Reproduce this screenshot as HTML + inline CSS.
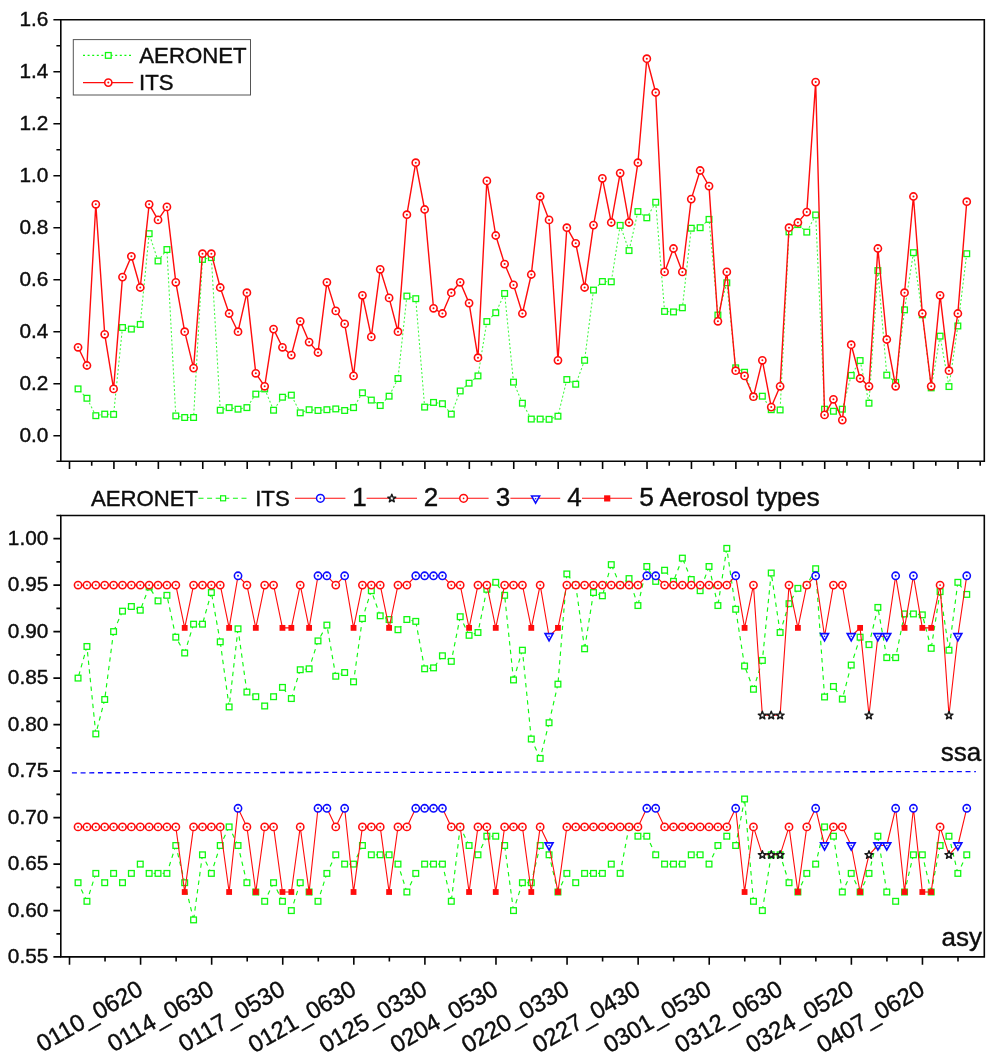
<!DOCTYPE html>
<html lang="en"><head><meta charset="utf-8"><title>AERONET vs ITS aerosol retrievals</title>
<style>html,body{margin:0;padding:0;background:#fff}body{width:992px;height:1058px;overflow:hidden}svg{display:block}text{font-family:"Liberation Sans",Arial,Helvetica,sans-serif;fill:#0d0d0d;stroke:#0d0d0d;stroke-width:0.4px}</style></head><body>
<svg width="992" height="1058" viewBox="0 0 992 1058">
<rect width="992" height="1058" fill="#fff"/>
<g id="top-chart">
<path d="M86.94 398.26L78.05 388.9M95.82 415.68L86.94 398.26M104.71 414.12L95.82 415.68M113.6 414.38L104.71 414.12M122.48 327.54L113.6 414.38M131.37 329.1L122.48 327.54M140.26 324.42L131.37 329.1M149.15 233.68L140.26 324.42M158.03 260.98L149.15 233.68M166.92 249.54L158.03 260.98M175.81 415.94L166.92 249.54M184.69 417.5L175.81 415.94M193.58 417.5L184.69 417.5M202.47 259.42L193.58 417.5M211.36 257.6L202.47 259.42M220.24 410.22L211.36 257.6M229.13 407.62L220.24 410.22M238.02 409.18L229.13 407.62M246.9 407.62L238.02 409.18M255.79 394.1L246.9 407.62M264.68 388.9L255.79 394.1M273.56 410.22L264.68 388.9M282.45 397.22L273.56 410.22M291.34 395.14L282.45 397.22M300.23 412.82L291.34 395.14M309.11 409.7L300.23 412.82M318 410.48L309.11 409.7M326.89 409.7L318 410.48M335.77 408.92L326.89 409.7M344.66 410.48L335.77 408.92M353.55 407.62L344.66 410.48M362.43 392.8L353.55 407.62M371.32 400.08L362.43 392.8M380.21 405.54L371.32 400.08M389.1 396.18L380.21 405.54M397.98 378.5L389.1 396.18M406.87 296.08L397.98 378.5M415.76 298.68L406.87 296.08M424.64 407.1L415.76 298.68M433.53 402.42L424.64 407.1M442.42 403.72L433.53 402.42M451.3 414.12L442.42 403.72M460.19 390.98L451.3 414.12M469.08 383.18L460.19 390.98M477.97 375.9L469.08 383.18M486.85 321.56L477.97 375.9M495.74 312.72L486.85 321.56M504.63 293.48L495.74 312.72M513.51 382.14L504.63 293.48M522.4 403.2L513.51 382.14M531.29 419.06L522.4 403.2M540.17 419.06L531.29 419.06M549.06 419.32L540.17 419.06M557.95 416.2L549.06 419.32M566.84 379.54L557.95 416.2M575.72 384.22L566.84 379.54M584.61 360.3L575.72 384.22M593.5 290.1L584.61 360.3M602.38 281.52L593.5 290.1M611.27 281.78L602.38 281.52M620.16 225.36L611.27 281.78M629.04 250.58L620.16 225.36M637.93 211.58L629.04 250.58M646.82 217.82L637.93 211.58M655.7 202.22L646.82 217.82M664.59 311.42L655.7 202.22M673.48 311.94L664.59 311.42M682.37 307.78L673.48 311.94M691.25 228.22L682.37 307.78M700.14 227.7L691.25 228.22M709.03 219.38L700.14 227.7M717.91 315.06L709.03 219.38M726.8 282.82L717.91 315.06M735.69 367.84L726.8 282.82M744.58 372.26L735.69 367.84M753.46 396.7L744.58 372.26M762.35 396.18L753.46 396.7M771.24 409.7L762.35 396.18M780.12 409.96L771.24 409.7M789.01 231.86L780.12 409.96M797.9 224.58L789.01 231.86M806.78 232.12L797.9 224.58M815.67 214.96L806.78 232.12M824.56 409.18L815.67 214.96M833.44 411.26L824.56 409.18M842.33 409.18L833.44 411.26M851.22 375.38L842.33 409.18M860.11 360.56L851.22 375.38M868.99 403.2L860.11 360.56M877.88 270.6L868.99 403.2M886.77 375.12L877.88 270.6M895.65 382.4L886.77 375.12M904.54 309.86L895.65 382.4M913.43 252.66L904.54 309.86M922.32 314.8L913.43 252.66M931.2 387.86L922.32 314.8M940.09 336.12L931.2 387.86M948.98 386.56L940.09 336.12M957.86 325.98L948.98 386.56M966.75 253.7L957.86 325.98" fill="none" stroke="#10f810" stroke-opacity="0.8" stroke-width="1.05" stroke-dasharray="2 2.15"/>
<rect x="75.2" y="386.05" width="5.7" height="5.7" fill="#fff" stroke="#10f810" stroke-width="1.3"/>
<rect x="84.09" y="395.41" width="5.7" height="5.7" fill="#fff" stroke="#10f810" stroke-width="1.3"/>
<rect x="92.97" y="412.83" width="5.7" height="5.7" fill="#fff" stroke="#10f810" stroke-width="1.3"/>
<rect x="101.86" y="411.27" width="5.7" height="5.7" fill="#fff" stroke="#10f810" stroke-width="1.3"/>
<rect x="110.75" y="411.53" width="5.7" height="5.7" fill="#fff" stroke="#10f810" stroke-width="1.3"/>
<rect x="119.64" y="324.69" width="5.7" height="5.7" fill="#fff" stroke="#10f810" stroke-width="1.3"/>
<rect x="128.52" y="326.25" width="5.7" height="5.7" fill="#fff" stroke="#10f810" stroke-width="1.3"/>
<rect x="137.41" y="321.57" width="5.7" height="5.7" fill="#fff" stroke="#10f810" stroke-width="1.3"/>
<rect x="146.3" y="230.83" width="5.7" height="5.7" fill="#fff" stroke="#10f810" stroke-width="1.3"/>
<rect x="155.18" y="258.13" width="5.7" height="5.7" fill="#fff" stroke="#10f810" stroke-width="1.3"/>
<rect x="164.07" y="246.69" width="5.7" height="5.7" fill="#fff" stroke="#10f810" stroke-width="1.3"/>
<rect x="172.96" y="413.09" width="5.7" height="5.7" fill="#fff" stroke="#10f810" stroke-width="1.3"/>
<rect x="181.84" y="414.65" width="5.7" height="5.7" fill="#fff" stroke="#10f810" stroke-width="1.3"/>
<rect x="190.73" y="414.65" width="5.7" height="5.7" fill="#fff" stroke="#10f810" stroke-width="1.3"/>
<rect x="199.62" y="256.57" width="5.7" height="5.7" fill="#fff" stroke="#10f810" stroke-width="1.3"/>
<rect x="208.51" y="254.75" width="5.7" height="5.7" fill="#fff" stroke="#10f810" stroke-width="1.3"/>
<rect x="217.39" y="407.37" width="5.7" height="5.7" fill="#fff" stroke="#10f810" stroke-width="1.3"/>
<rect x="226.28" y="404.77" width="5.7" height="5.7" fill="#fff" stroke="#10f810" stroke-width="1.3"/>
<rect x="235.17" y="406.33" width="5.7" height="5.7" fill="#fff" stroke="#10f810" stroke-width="1.3"/>
<rect x="244.05" y="404.77" width="5.7" height="5.7" fill="#fff" stroke="#10f810" stroke-width="1.3"/>
<rect x="252.94" y="391.25" width="5.7" height="5.7" fill="#fff" stroke="#10f810" stroke-width="1.3"/>
<rect x="261.83" y="386.05" width="5.7" height="5.7" fill="#fff" stroke="#10f810" stroke-width="1.3"/>
<rect x="270.71" y="407.37" width="5.7" height="5.7" fill="#fff" stroke="#10f810" stroke-width="1.3"/>
<rect x="279.6" y="394.37" width="5.7" height="5.7" fill="#fff" stroke="#10f810" stroke-width="1.3"/>
<rect x="288.49" y="392.29" width="5.7" height="5.7" fill="#fff" stroke="#10f810" stroke-width="1.3"/>
<rect x="297.38" y="409.97" width="5.7" height="5.7" fill="#fff" stroke="#10f810" stroke-width="1.3"/>
<rect x="306.26" y="406.85" width="5.7" height="5.7" fill="#fff" stroke="#10f810" stroke-width="1.3"/>
<rect x="315.15" y="407.63" width="5.7" height="5.7" fill="#fff" stroke="#10f810" stroke-width="1.3"/>
<rect x="324.04" y="406.85" width="5.7" height="5.7" fill="#fff" stroke="#10f810" stroke-width="1.3"/>
<rect x="332.92" y="406.07" width="5.7" height="5.7" fill="#fff" stroke="#10f810" stroke-width="1.3"/>
<rect x="341.81" y="407.63" width="5.7" height="5.7" fill="#fff" stroke="#10f810" stroke-width="1.3"/>
<rect x="350.7" y="404.77" width="5.7" height="5.7" fill="#fff" stroke="#10f810" stroke-width="1.3"/>
<rect x="359.58" y="389.95" width="5.7" height="5.7" fill="#fff" stroke="#10f810" stroke-width="1.3"/>
<rect x="368.47" y="397.23" width="5.7" height="5.7" fill="#fff" stroke="#10f810" stroke-width="1.3"/>
<rect x="377.36" y="402.69" width="5.7" height="5.7" fill="#fff" stroke="#10f810" stroke-width="1.3"/>
<rect x="386.25" y="393.33" width="5.7" height="5.7" fill="#fff" stroke="#10f810" stroke-width="1.3"/>
<rect x="395.13" y="375.65" width="5.7" height="5.7" fill="#fff" stroke="#10f810" stroke-width="1.3"/>
<rect x="404.02" y="293.23" width="5.7" height="5.7" fill="#fff" stroke="#10f810" stroke-width="1.3"/>
<rect x="412.91" y="295.83" width="5.7" height="5.7" fill="#fff" stroke="#10f810" stroke-width="1.3"/>
<rect x="421.79" y="404.25" width="5.7" height="5.7" fill="#fff" stroke="#10f810" stroke-width="1.3"/>
<rect x="430.68" y="399.57" width="5.7" height="5.7" fill="#fff" stroke="#10f810" stroke-width="1.3"/>
<rect x="439.57" y="400.87" width="5.7" height="5.7" fill="#fff" stroke="#10f810" stroke-width="1.3"/>
<rect x="448.45" y="411.27" width="5.7" height="5.7" fill="#fff" stroke="#10f810" stroke-width="1.3"/>
<rect x="457.34" y="388.13" width="5.7" height="5.7" fill="#fff" stroke="#10f810" stroke-width="1.3"/>
<rect x="466.23" y="380.33" width="5.7" height="5.7" fill="#fff" stroke="#10f810" stroke-width="1.3"/>
<rect x="475.12" y="373.05" width="5.7" height="5.7" fill="#fff" stroke="#10f810" stroke-width="1.3"/>
<rect x="484" y="318.71" width="5.7" height="5.7" fill="#fff" stroke="#10f810" stroke-width="1.3"/>
<rect x="492.89" y="309.87" width="5.7" height="5.7" fill="#fff" stroke="#10f810" stroke-width="1.3"/>
<rect x="501.78" y="290.63" width="5.7" height="5.7" fill="#fff" stroke="#10f810" stroke-width="1.3"/>
<rect x="510.66" y="379.29" width="5.7" height="5.7" fill="#fff" stroke="#10f810" stroke-width="1.3"/>
<rect x="519.55" y="400.35" width="5.7" height="5.7" fill="#fff" stroke="#10f810" stroke-width="1.3"/>
<rect x="528.44" y="416.21" width="5.7" height="5.7" fill="#fff" stroke="#10f810" stroke-width="1.3"/>
<rect x="537.32" y="416.21" width="5.7" height="5.7" fill="#fff" stroke="#10f810" stroke-width="1.3"/>
<rect x="546.21" y="416.47" width="5.7" height="5.7" fill="#fff" stroke="#10f810" stroke-width="1.3"/>
<rect x="555.1" y="413.35" width="5.7" height="5.7" fill="#fff" stroke="#10f810" stroke-width="1.3"/>
<rect x="563.99" y="376.69" width="5.7" height="5.7" fill="#fff" stroke="#10f810" stroke-width="1.3"/>
<rect x="572.87" y="381.37" width="5.7" height="5.7" fill="#fff" stroke="#10f810" stroke-width="1.3"/>
<rect x="581.76" y="357.45" width="5.7" height="5.7" fill="#fff" stroke="#10f810" stroke-width="1.3"/>
<rect x="590.65" y="287.25" width="5.7" height="5.7" fill="#fff" stroke="#10f810" stroke-width="1.3"/>
<rect x="599.53" y="278.67" width="5.7" height="5.7" fill="#fff" stroke="#10f810" stroke-width="1.3"/>
<rect x="608.42" y="278.93" width="5.7" height="5.7" fill="#fff" stroke="#10f810" stroke-width="1.3"/>
<rect x="617.31" y="222.51" width="5.7" height="5.7" fill="#fff" stroke="#10f810" stroke-width="1.3"/>
<rect x="626.19" y="247.73" width="5.7" height="5.7" fill="#fff" stroke="#10f810" stroke-width="1.3"/>
<rect x="635.08" y="208.73" width="5.7" height="5.7" fill="#fff" stroke="#10f810" stroke-width="1.3"/>
<rect x="643.97" y="214.97" width="5.7" height="5.7" fill="#fff" stroke="#10f810" stroke-width="1.3"/>
<rect x="652.85" y="199.37" width="5.7" height="5.7" fill="#fff" stroke="#10f810" stroke-width="1.3"/>
<rect x="661.74" y="308.57" width="5.7" height="5.7" fill="#fff" stroke="#10f810" stroke-width="1.3"/>
<rect x="670.63" y="309.09" width="5.7" height="5.7" fill="#fff" stroke="#10f810" stroke-width="1.3"/>
<rect x="679.52" y="304.93" width="5.7" height="5.7" fill="#fff" stroke="#10f810" stroke-width="1.3"/>
<rect x="688.4" y="225.37" width="5.7" height="5.7" fill="#fff" stroke="#10f810" stroke-width="1.3"/>
<rect x="697.29" y="224.85" width="5.7" height="5.7" fill="#fff" stroke="#10f810" stroke-width="1.3"/>
<rect x="706.18" y="216.53" width="5.7" height="5.7" fill="#fff" stroke="#10f810" stroke-width="1.3"/>
<rect x="715.06" y="312.21" width="5.7" height="5.7" fill="#fff" stroke="#10f810" stroke-width="1.3"/>
<rect x="723.95" y="279.97" width="5.7" height="5.7" fill="#fff" stroke="#10f810" stroke-width="1.3"/>
<rect x="732.84" y="364.99" width="5.7" height="5.7" fill="#fff" stroke="#10f810" stroke-width="1.3"/>
<rect x="741.73" y="369.41" width="5.7" height="5.7" fill="#fff" stroke="#10f810" stroke-width="1.3"/>
<rect x="750.61" y="393.85" width="5.7" height="5.7" fill="#fff" stroke="#10f810" stroke-width="1.3"/>
<rect x="759.5" y="393.33" width="5.7" height="5.7" fill="#fff" stroke="#10f810" stroke-width="1.3"/>
<rect x="768.39" y="406.85" width="5.7" height="5.7" fill="#fff" stroke="#10f810" stroke-width="1.3"/>
<rect x="777.27" y="407.11" width="5.7" height="5.7" fill="#fff" stroke="#10f810" stroke-width="1.3"/>
<rect x="786.16" y="229.01" width="5.7" height="5.7" fill="#fff" stroke="#10f810" stroke-width="1.3"/>
<rect x="795.05" y="221.73" width="5.7" height="5.7" fill="#fff" stroke="#10f810" stroke-width="1.3"/>
<rect x="803.93" y="229.27" width="5.7" height="5.7" fill="#fff" stroke="#10f810" stroke-width="1.3"/>
<rect x="812.82" y="212.11" width="5.7" height="5.7" fill="#fff" stroke="#10f810" stroke-width="1.3"/>
<rect x="821.71" y="406.33" width="5.7" height="5.7" fill="#fff" stroke="#10f810" stroke-width="1.3"/>
<rect x="830.59" y="408.41" width="5.7" height="5.7" fill="#fff" stroke="#10f810" stroke-width="1.3"/>
<rect x="839.48" y="406.33" width="5.7" height="5.7" fill="#fff" stroke="#10f810" stroke-width="1.3"/>
<rect x="848.37" y="372.53" width="5.7" height="5.7" fill="#fff" stroke="#10f810" stroke-width="1.3"/>
<rect x="857.26" y="357.71" width="5.7" height="5.7" fill="#fff" stroke="#10f810" stroke-width="1.3"/>
<rect x="866.14" y="400.35" width="5.7" height="5.7" fill="#fff" stroke="#10f810" stroke-width="1.3"/>
<rect x="875.03" y="267.75" width="5.7" height="5.7" fill="#fff" stroke="#10f810" stroke-width="1.3"/>
<rect x="883.92" y="372.27" width="5.7" height="5.7" fill="#fff" stroke="#10f810" stroke-width="1.3"/>
<rect x="892.8" y="379.55" width="5.7" height="5.7" fill="#fff" stroke="#10f810" stroke-width="1.3"/>
<rect x="901.69" y="307.01" width="5.7" height="5.7" fill="#fff" stroke="#10f810" stroke-width="1.3"/>
<rect x="910.58" y="249.81" width="5.7" height="5.7" fill="#fff" stroke="#10f810" stroke-width="1.3"/>
<rect x="919.47" y="311.95" width="5.7" height="5.7" fill="#fff" stroke="#10f810" stroke-width="1.3"/>
<rect x="928.35" y="385.01" width="5.7" height="5.7" fill="#fff" stroke="#10f810" stroke-width="1.3"/>
<rect x="937.24" y="333.27" width="5.7" height="5.7" fill="#fff" stroke="#10f810" stroke-width="1.3"/>
<rect x="946.13" y="383.71" width="5.7" height="5.7" fill="#fff" stroke="#10f810" stroke-width="1.3"/>
<rect x="955.01" y="323.13" width="5.7" height="5.7" fill="#fff" stroke="#10f810" stroke-width="1.3"/>
<rect x="963.9" y="250.85" width="5.7" height="5.7" fill="#fff" stroke="#10f810" stroke-width="1.3"/>
<polyline points="78.05,347.3 86.94,365.5 95.82,204.3 104.71,334.3 113.6,388.9 122.48,277.1 131.37,256.3 140.26,287.5 149.15,204.3 158.03,219.9 166.92,206.9 175.81,282.3 184.69,331.7 193.58,368.1 202.47,253.7 211.36,253.7 220.24,287.5 229.13,313.5 238.02,331.7 246.9,292.7 255.79,373.3 264.68,386.3 273.56,329.1 282.45,347.3 291.34,355.1 300.23,321.3 309.11,342.1 318,352.5 326.89,282.3 335.77,310.9 344.66,323.9 353.55,375.9 362.43,295.3 371.32,336.9 380.21,269.3 389.1,297.9 397.98,331.7 406.87,214.7 415.76,162.7 424.64,209.5 433.53,308.3 442.42,313.5 451.3,292.7 460.19,282.3 469.08,303.1 477.97,357.7 486.85,180.9 495.74,235.5 504.63,264.1 513.51,284.9 522.4,313.5 531.29,274.5 540.17,196.5 549.06,219.9 557.95,360.3 566.84,227.7 575.72,243.3 584.61,287.5 593.5,225.1 602.38,178.3 611.27,222.5 620.16,173.1 629.04,222.5 637.93,162.7 646.82,58.7 655.7,92.5 664.59,271.9 673.48,248.5 682.37,271.9 691.25,199.1 700.14,170.5 709.03,186.1 717.91,321.3 726.8,271.9 735.69,370.7 744.58,375.9 753.46,396.7 762.35,360.3 771.24,407.1 780.12,386.3 789.01,227.7 797.9,222.5 806.78,212.1 815.67,82.1 824.56,414.9 833.44,399.3 842.33,420.1 851.22,344.7 860.11,378.5 868.99,386.3 877.88,248.5 886.77,339.5 895.65,386.3 904.54,292.7 913.43,196.5 922.32,313.5 931.2,386.3 940.09,295.3 948.98,370.7 957.86,313.5 966.75,201.7" fill="none" stroke="#ff0c0c" stroke-width="1.4" stroke-linejoin="round"/>
<circle cx="78.05" cy="347.3" r="3.6" fill="#fff" stroke="#ff0c0c" stroke-width="1.6"/><circle cx="78.05" cy="347.3" r="1.0" fill="#ff0c0c"/>
<circle cx="86.94" cy="365.5" r="3.6" fill="#fff" stroke="#ff0c0c" stroke-width="1.6"/><circle cx="86.94" cy="365.5" r="1.0" fill="#ff0c0c"/>
<circle cx="95.82" cy="204.3" r="3.6" fill="#fff" stroke="#ff0c0c" stroke-width="1.6"/><circle cx="95.82" cy="204.3" r="1.0" fill="#ff0c0c"/>
<circle cx="104.71" cy="334.3" r="3.6" fill="#fff" stroke="#ff0c0c" stroke-width="1.6"/><circle cx="104.71" cy="334.3" r="1.0" fill="#ff0c0c"/>
<circle cx="113.6" cy="388.9" r="3.6" fill="#fff" stroke="#ff0c0c" stroke-width="1.6"/><circle cx="113.6" cy="388.9" r="1.0" fill="#ff0c0c"/>
<circle cx="122.48" cy="277.1" r="3.6" fill="#fff" stroke="#ff0c0c" stroke-width="1.6"/><circle cx="122.48" cy="277.1" r="1.0" fill="#ff0c0c"/>
<circle cx="131.37" cy="256.3" r="3.6" fill="#fff" stroke="#ff0c0c" stroke-width="1.6"/><circle cx="131.37" cy="256.3" r="1.0" fill="#ff0c0c"/>
<circle cx="140.26" cy="287.5" r="3.6" fill="#fff" stroke="#ff0c0c" stroke-width="1.6"/><circle cx="140.26" cy="287.5" r="1.0" fill="#ff0c0c"/>
<circle cx="149.15" cy="204.3" r="3.6" fill="#fff" stroke="#ff0c0c" stroke-width="1.6"/><circle cx="149.15" cy="204.3" r="1.0" fill="#ff0c0c"/>
<circle cx="158.03" cy="219.9" r="3.6" fill="#fff" stroke="#ff0c0c" stroke-width="1.6"/><circle cx="158.03" cy="219.9" r="1.0" fill="#ff0c0c"/>
<circle cx="166.92" cy="206.9" r="3.6" fill="#fff" stroke="#ff0c0c" stroke-width="1.6"/><circle cx="166.92" cy="206.9" r="1.0" fill="#ff0c0c"/>
<circle cx="175.81" cy="282.3" r="3.6" fill="#fff" stroke="#ff0c0c" stroke-width="1.6"/><circle cx="175.81" cy="282.3" r="1.0" fill="#ff0c0c"/>
<circle cx="184.69" cy="331.7" r="3.6" fill="#fff" stroke="#ff0c0c" stroke-width="1.6"/><circle cx="184.69" cy="331.7" r="1.0" fill="#ff0c0c"/>
<circle cx="193.58" cy="368.1" r="3.6" fill="#fff" stroke="#ff0c0c" stroke-width="1.6"/><circle cx="193.58" cy="368.1" r="1.0" fill="#ff0c0c"/>
<circle cx="202.47" cy="253.7" r="3.6" fill="#fff" stroke="#ff0c0c" stroke-width="1.6"/><circle cx="202.47" cy="253.7" r="1.0" fill="#ff0c0c"/>
<circle cx="211.36" cy="253.7" r="3.6" fill="#fff" stroke="#ff0c0c" stroke-width="1.6"/><circle cx="211.36" cy="253.7" r="1.0" fill="#ff0c0c"/>
<circle cx="220.24" cy="287.5" r="3.6" fill="#fff" stroke="#ff0c0c" stroke-width="1.6"/><circle cx="220.24" cy="287.5" r="1.0" fill="#ff0c0c"/>
<circle cx="229.13" cy="313.5" r="3.6" fill="#fff" stroke="#ff0c0c" stroke-width="1.6"/><circle cx="229.13" cy="313.5" r="1.0" fill="#ff0c0c"/>
<circle cx="238.02" cy="331.7" r="3.6" fill="#fff" stroke="#ff0c0c" stroke-width="1.6"/><circle cx="238.02" cy="331.7" r="1.0" fill="#ff0c0c"/>
<circle cx="246.9" cy="292.7" r="3.6" fill="#fff" stroke="#ff0c0c" stroke-width="1.6"/><circle cx="246.9" cy="292.7" r="1.0" fill="#ff0c0c"/>
<circle cx="255.79" cy="373.3" r="3.6" fill="#fff" stroke="#ff0c0c" stroke-width="1.6"/><circle cx="255.79" cy="373.3" r="1.0" fill="#ff0c0c"/>
<circle cx="264.68" cy="386.3" r="3.6" fill="#fff" stroke="#ff0c0c" stroke-width="1.6"/><circle cx="264.68" cy="386.3" r="1.0" fill="#ff0c0c"/>
<circle cx="273.56" cy="329.1" r="3.6" fill="#fff" stroke="#ff0c0c" stroke-width="1.6"/><circle cx="273.56" cy="329.1" r="1.0" fill="#ff0c0c"/>
<circle cx="282.45" cy="347.3" r="3.6" fill="#fff" stroke="#ff0c0c" stroke-width="1.6"/><circle cx="282.45" cy="347.3" r="1.0" fill="#ff0c0c"/>
<circle cx="291.34" cy="355.1" r="3.6" fill="#fff" stroke="#ff0c0c" stroke-width="1.6"/><circle cx="291.34" cy="355.1" r="1.0" fill="#ff0c0c"/>
<circle cx="300.23" cy="321.3" r="3.6" fill="#fff" stroke="#ff0c0c" stroke-width="1.6"/><circle cx="300.23" cy="321.3" r="1.0" fill="#ff0c0c"/>
<circle cx="309.11" cy="342.1" r="3.6" fill="#fff" stroke="#ff0c0c" stroke-width="1.6"/><circle cx="309.11" cy="342.1" r="1.0" fill="#ff0c0c"/>
<circle cx="318" cy="352.5" r="3.6" fill="#fff" stroke="#ff0c0c" stroke-width="1.6"/><circle cx="318" cy="352.5" r="1.0" fill="#ff0c0c"/>
<circle cx="326.89" cy="282.3" r="3.6" fill="#fff" stroke="#ff0c0c" stroke-width="1.6"/><circle cx="326.89" cy="282.3" r="1.0" fill="#ff0c0c"/>
<circle cx="335.77" cy="310.9" r="3.6" fill="#fff" stroke="#ff0c0c" stroke-width="1.6"/><circle cx="335.77" cy="310.9" r="1.0" fill="#ff0c0c"/>
<circle cx="344.66" cy="323.9" r="3.6" fill="#fff" stroke="#ff0c0c" stroke-width="1.6"/><circle cx="344.66" cy="323.9" r="1.0" fill="#ff0c0c"/>
<circle cx="353.55" cy="375.9" r="3.6" fill="#fff" stroke="#ff0c0c" stroke-width="1.6"/><circle cx="353.55" cy="375.9" r="1.0" fill="#ff0c0c"/>
<circle cx="362.43" cy="295.3" r="3.6" fill="#fff" stroke="#ff0c0c" stroke-width="1.6"/><circle cx="362.43" cy="295.3" r="1.0" fill="#ff0c0c"/>
<circle cx="371.32" cy="336.9" r="3.6" fill="#fff" stroke="#ff0c0c" stroke-width="1.6"/><circle cx="371.32" cy="336.9" r="1.0" fill="#ff0c0c"/>
<circle cx="380.21" cy="269.3" r="3.6" fill="#fff" stroke="#ff0c0c" stroke-width="1.6"/><circle cx="380.21" cy="269.3" r="1.0" fill="#ff0c0c"/>
<circle cx="389.1" cy="297.9" r="3.6" fill="#fff" stroke="#ff0c0c" stroke-width="1.6"/><circle cx="389.1" cy="297.9" r="1.0" fill="#ff0c0c"/>
<circle cx="397.98" cy="331.7" r="3.6" fill="#fff" stroke="#ff0c0c" stroke-width="1.6"/><circle cx="397.98" cy="331.7" r="1.0" fill="#ff0c0c"/>
<circle cx="406.87" cy="214.7" r="3.6" fill="#fff" stroke="#ff0c0c" stroke-width="1.6"/><circle cx="406.87" cy="214.7" r="1.0" fill="#ff0c0c"/>
<circle cx="415.76" cy="162.7" r="3.6" fill="#fff" stroke="#ff0c0c" stroke-width="1.6"/><circle cx="415.76" cy="162.7" r="1.0" fill="#ff0c0c"/>
<circle cx="424.64" cy="209.5" r="3.6" fill="#fff" stroke="#ff0c0c" stroke-width="1.6"/><circle cx="424.64" cy="209.5" r="1.0" fill="#ff0c0c"/>
<circle cx="433.53" cy="308.3" r="3.6" fill="#fff" stroke="#ff0c0c" stroke-width="1.6"/><circle cx="433.53" cy="308.3" r="1.0" fill="#ff0c0c"/>
<circle cx="442.42" cy="313.5" r="3.6" fill="#fff" stroke="#ff0c0c" stroke-width="1.6"/><circle cx="442.42" cy="313.5" r="1.0" fill="#ff0c0c"/>
<circle cx="451.3" cy="292.7" r="3.6" fill="#fff" stroke="#ff0c0c" stroke-width="1.6"/><circle cx="451.3" cy="292.7" r="1.0" fill="#ff0c0c"/>
<circle cx="460.19" cy="282.3" r="3.6" fill="#fff" stroke="#ff0c0c" stroke-width="1.6"/><circle cx="460.19" cy="282.3" r="1.0" fill="#ff0c0c"/>
<circle cx="469.08" cy="303.1" r="3.6" fill="#fff" stroke="#ff0c0c" stroke-width="1.6"/><circle cx="469.08" cy="303.1" r="1.0" fill="#ff0c0c"/>
<circle cx="477.97" cy="357.7" r="3.6" fill="#fff" stroke="#ff0c0c" stroke-width="1.6"/><circle cx="477.97" cy="357.7" r="1.0" fill="#ff0c0c"/>
<circle cx="486.85" cy="180.9" r="3.6" fill="#fff" stroke="#ff0c0c" stroke-width="1.6"/><circle cx="486.85" cy="180.9" r="1.0" fill="#ff0c0c"/>
<circle cx="495.74" cy="235.5" r="3.6" fill="#fff" stroke="#ff0c0c" stroke-width="1.6"/><circle cx="495.74" cy="235.5" r="1.0" fill="#ff0c0c"/>
<circle cx="504.63" cy="264.1" r="3.6" fill="#fff" stroke="#ff0c0c" stroke-width="1.6"/><circle cx="504.63" cy="264.1" r="1.0" fill="#ff0c0c"/>
<circle cx="513.51" cy="284.9" r="3.6" fill="#fff" stroke="#ff0c0c" stroke-width="1.6"/><circle cx="513.51" cy="284.9" r="1.0" fill="#ff0c0c"/>
<circle cx="522.4" cy="313.5" r="3.6" fill="#fff" stroke="#ff0c0c" stroke-width="1.6"/><circle cx="522.4" cy="313.5" r="1.0" fill="#ff0c0c"/>
<circle cx="531.29" cy="274.5" r="3.6" fill="#fff" stroke="#ff0c0c" stroke-width="1.6"/><circle cx="531.29" cy="274.5" r="1.0" fill="#ff0c0c"/>
<circle cx="540.17" cy="196.5" r="3.6" fill="#fff" stroke="#ff0c0c" stroke-width="1.6"/><circle cx="540.17" cy="196.5" r="1.0" fill="#ff0c0c"/>
<circle cx="549.06" cy="219.9" r="3.6" fill="#fff" stroke="#ff0c0c" stroke-width="1.6"/><circle cx="549.06" cy="219.9" r="1.0" fill="#ff0c0c"/>
<circle cx="557.95" cy="360.3" r="3.6" fill="#fff" stroke="#ff0c0c" stroke-width="1.6"/><circle cx="557.95" cy="360.3" r="1.0" fill="#ff0c0c"/>
<circle cx="566.84" cy="227.7" r="3.6" fill="#fff" stroke="#ff0c0c" stroke-width="1.6"/><circle cx="566.84" cy="227.7" r="1.0" fill="#ff0c0c"/>
<circle cx="575.72" cy="243.3" r="3.6" fill="#fff" stroke="#ff0c0c" stroke-width="1.6"/><circle cx="575.72" cy="243.3" r="1.0" fill="#ff0c0c"/>
<circle cx="584.61" cy="287.5" r="3.6" fill="#fff" stroke="#ff0c0c" stroke-width="1.6"/><circle cx="584.61" cy="287.5" r="1.0" fill="#ff0c0c"/>
<circle cx="593.5" cy="225.1" r="3.6" fill="#fff" stroke="#ff0c0c" stroke-width="1.6"/><circle cx="593.5" cy="225.1" r="1.0" fill="#ff0c0c"/>
<circle cx="602.38" cy="178.3" r="3.6" fill="#fff" stroke="#ff0c0c" stroke-width="1.6"/><circle cx="602.38" cy="178.3" r="1.0" fill="#ff0c0c"/>
<circle cx="611.27" cy="222.5" r="3.6" fill="#fff" stroke="#ff0c0c" stroke-width="1.6"/><circle cx="611.27" cy="222.5" r="1.0" fill="#ff0c0c"/>
<circle cx="620.16" cy="173.1" r="3.6" fill="#fff" stroke="#ff0c0c" stroke-width="1.6"/><circle cx="620.16" cy="173.1" r="1.0" fill="#ff0c0c"/>
<circle cx="629.04" cy="222.5" r="3.6" fill="#fff" stroke="#ff0c0c" stroke-width="1.6"/><circle cx="629.04" cy="222.5" r="1.0" fill="#ff0c0c"/>
<circle cx="637.93" cy="162.7" r="3.6" fill="#fff" stroke="#ff0c0c" stroke-width="1.6"/><circle cx="637.93" cy="162.7" r="1.0" fill="#ff0c0c"/>
<circle cx="646.82" cy="58.7" r="3.6" fill="#fff" stroke="#ff0c0c" stroke-width="1.6"/><circle cx="646.82" cy="58.7" r="1.0" fill="#ff0c0c"/>
<circle cx="655.7" cy="92.5" r="3.6" fill="#fff" stroke="#ff0c0c" stroke-width="1.6"/><circle cx="655.7" cy="92.5" r="1.0" fill="#ff0c0c"/>
<circle cx="664.59" cy="271.9" r="3.6" fill="#fff" stroke="#ff0c0c" stroke-width="1.6"/><circle cx="664.59" cy="271.9" r="1.0" fill="#ff0c0c"/>
<circle cx="673.48" cy="248.5" r="3.6" fill="#fff" stroke="#ff0c0c" stroke-width="1.6"/><circle cx="673.48" cy="248.5" r="1.0" fill="#ff0c0c"/>
<circle cx="682.37" cy="271.9" r="3.6" fill="#fff" stroke="#ff0c0c" stroke-width="1.6"/><circle cx="682.37" cy="271.9" r="1.0" fill="#ff0c0c"/>
<circle cx="691.25" cy="199.1" r="3.6" fill="#fff" stroke="#ff0c0c" stroke-width="1.6"/><circle cx="691.25" cy="199.1" r="1.0" fill="#ff0c0c"/>
<circle cx="700.14" cy="170.5" r="3.6" fill="#fff" stroke="#ff0c0c" stroke-width="1.6"/><circle cx="700.14" cy="170.5" r="1.0" fill="#ff0c0c"/>
<circle cx="709.03" cy="186.1" r="3.6" fill="#fff" stroke="#ff0c0c" stroke-width="1.6"/><circle cx="709.03" cy="186.1" r="1.0" fill="#ff0c0c"/>
<circle cx="717.91" cy="321.3" r="3.6" fill="#fff" stroke="#ff0c0c" stroke-width="1.6"/><circle cx="717.91" cy="321.3" r="1.0" fill="#ff0c0c"/>
<circle cx="726.8" cy="271.9" r="3.6" fill="#fff" stroke="#ff0c0c" stroke-width="1.6"/><circle cx="726.8" cy="271.9" r="1.0" fill="#ff0c0c"/>
<circle cx="735.69" cy="370.7" r="3.6" fill="#fff" stroke="#ff0c0c" stroke-width="1.6"/><circle cx="735.69" cy="370.7" r="1.0" fill="#ff0c0c"/>
<circle cx="744.58" cy="375.9" r="3.6" fill="#fff" stroke="#ff0c0c" stroke-width="1.6"/><circle cx="744.58" cy="375.9" r="1.0" fill="#ff0c0c"/>
<circle cx="753.46" cy="396.7" r="3.6" fill="#fff" stroke="#ff0c0c" stroke-width="1.6"/><circle cx="753.46" cy="396.7" r="1.0" fill="#ff0c0c"/>
<circle cx="762.35" cy="360.3" r="3.6" fill="#fff" stroke="#ff0c0c" stroke-width="1.6"/><circle cx="762.35" cy="360.3" r="1.0" fill="#ff0c0c"/>
<circle cx="771.24" cy="407.1" r="3.6" fill="#fff" stroke="#ff0c0c" stroke-width="1.6"/><circle cx="771.24" cy="407.1" r="1.0" fill="#ff0c0c"/>
<circle cx="780.12" cy="386.3" r="3.6" fill="#fff" stroke="#ff0c0c" stroke-width="1.6"/><circle cx="780.12" cy="386.3" r="1.0" fill="#ff0c0c"/>
<circle cx="789.01" cy="227.7" r="3.6" fill="#fff" stroke="#ff0c0c" stroke-width="1.6"/><circle cx="789.01" cy="227.7" r="1.0" fill="#ff0c0c"/>
<circle cx="797.9" cy="222.5" r="3.6" fill="#fff" stroke="#ff0c0c" stroke-width="1.6"/><circle cx="797.9" cy="222.5" r="1.0" fill="#ff0c0c"/>
<circle cx="806.78" cy="212.1" r="3.6" fill="#fff" stroke="#ff0c0c" stroke-width="1.6"/><circle cx="806.78" cy="212.1" r="1.0" fill="#ff0c0c"/>
<circle cx="815.67" cy="82.1" r="3.6" fill="#fff" stroke="#ff0c0c" stroke-width="1.6"/><circle cx="815.67" cy="82.1" r="1.0" fill="#ff0c0c"/>
<circle cx="824.56" cy="414.9" r="3.6" fill="#fff" stroke="#ff0c0c" stroke-width="1.6"/><circle cx="824.56" cy="414.9" r="1.0" fill="#ff0c0c"/>
<circle cx="833.44" cy="399.3" r="3.6" fill="#fff" stroke="#ff0c0c" stroke-width="1.6"/><circle cx="833.44" cy="399.3" r="1.0" fill="#ff0c0c"/>
<circle cx="842.33" cy="420.1" r="3.6" fill="#fff" stroke="#ff0c0c" stroke-width="1.6"/><circle cx="842.33" cy="420.1" r="1.0" fill="#ff0c0c"/>
<circle cx="851.22" cy="344.7" r="3.6" fill="#fff" stroke="#ff0c0c" stroke-width="1.6"/><circle cx="851.22" cy="344.7" r="1.0" fill="#ff0c0c"/>
<circle cx="860.11" cy="378.5" r="3.6" fill="#fff" stroke="#ff0c0c" stroke-width="1.6"/><circle cx="860.11" cy="378.5" r="1.0" fill="#ff0c0c"/>
<circle cx="868.99" cy="386.3" r="3.6" fill="#fff" stroke="#ff0c0c" stroke-width="1.6"/><circle cx="868.99" cy="386.3" r="1.0" fill="#ff0c0c"/>
<circle cx="877.88" cy="248.5" r="3.6" fill="#fff" stroke="#ff0c0c" stroke-width="1.6"/><circle cx="877.88" cy="248.5" r="1.0" fill="#ff0c0c"/>
<circle cx="886.77" cy="339.5" r="3.6" fill="#fff" stroke="#ff0c0c" stroke-width="1.6"/><circle cx="886.77" cy="339.5" r="1.0" fill="#ff0c0c"/>
<circle cx="895.65" cy="386.3" r="3.6" fill="#fff" stroke="#ff0c0c" stroke-width="1.6"/><circle cx="895.65" cy="386.3" r="1.0" fill="#ff0c0c"/>
<circle cx="904.54" cy="292.7" r="3.6" fill="#fff" stroke="#ff0c0c" stroke-width="1.6"/><circle cx="904.54" cy="292.7" r="1.0" fill="#ff0c0c"/>
<circle cx="913.43" cy="196.5" r="3.6" fill="#fff" stroke="#ff0c0c" stroke-width="1.6"/><circle cx="913.43" cy="196.5" r="1.0" fill="#ff0c0c"/>
<circle cx="922.32" cy="313.5" r="3.6" fill="#fff" stroke="#ff0c0c" stroke-width="1.6"/><circle cx="922.32" cy="313.5" r="1.0" fill="#ff0c0c"/>
<circle cx="931.2" cy="386.3" r="3.6" fill="#fff" stroke="#ff0c0c" stroke-width="1.6"/><circle cx="931.2" cy="386.3" r="1.0" fill="#ff0c0c"/>
<circle cx="940.09" cy="295.3" r="3.6" fill="#fff" stroke="#ff0c0c" stroke-width="1.6"/><circle cx="940.09" cy="295.3" r="1.0" fill="#ff0c0c"/>
<circle cx="948.98" cy="370.7" r="3.6" fill="#fff" stroke="#ff0c0c" stroke-width="1.6"/><circle cx="948.98" cy="370.7" r="1.0" fill="#ff0c0c"/>
<circle cx="957.86" cy="313.5" r="3.6" fill="#fff" stroke="#ff0c0c" stroke-width="1.6"/><circle cx="957.86" cy="313.5" r="1.0" fill="#ff0c0c"/>
<circle cx="966.75" cy="201.7" r="3.6" fill="#fff" stroke="#ff0c0c" stroke-width="1.6"/><circle cx="966.75" cy="201.7" r="1.0" fill="#ff0c0c"/>
<path d="M60.8 19.7H984.3V461.3H60.8Z" fill="none" stroke="#060606" stroke-width="1.6"/>
<path d="M60.8 435.7h-7.4M60.8 383.7h-7.4M60.8 331.7h-7.4M60.8 279.7h-7.4M60.8 227.7h-7.4M60.8 175.7h-7.4M60.8 123.7h-7.4M60.8 71.7h-7.4M60.8 19.7h-7.4M60.8 409.7h-4.4M60.8 357.7h-4.4M60.8 305.7h-4.4M60.8 253.7h-4.4M60.8 201.7h-4.4M60.8 149.7h-4.4M60.8 97.7h-4.4M60.8 45.7h-4.4M60.8 461.3h-4.4M69.5 461.3v7.6M113.92 461.3v7.6M158.35 461.3v7.6M202.77 461.3v7.6M247.2 461.3v7.6M291.62 461.3v7.6M336.05 461.3v7.6M380.47 461.3v7.6M424.9 461.3v7.6M469.32 461.3v7.6M513.75 461.3v7.6M558.17 461.3v7.6M602.6 461.3v7.6M647.02 461.3v7.6M691.45 461.3v7.6M735.88 461.3v7.6M780.3 461.3v7.6M824.72 461.3v7.6M869.15 461.3v7.6M913.57 461.3v7.6M958 461.3v7.6M91.71 461.3v4.5M136.14 461.3v4.5M180.56 461.3v4.5M224.99 461.3v4.5M269.41 461.3v4.5M313.84 461.3v4.5M358.26 461.3v4.5M402.69 461.3v4.5M447.11 461.3v4.5M491.54 461.3v4.5M535.96 461.3v4.5M580.39 461.3v4.5M624.81 461.3v4.5M669.24 461.3v4.5M713.66 461.3v4.5M758.09 461.3v4.5M802.51 461.3v4.5M846.94 461.3v4.5M891.36 461.3v4.5M935.79 461.3v4.5M980.21 461.3v4.5" fill="none" stroke="#060606" stroke-width="1.6"/>
<text x="48.3" y="441.7" font-size="20.8" text-anchor="end">0.0</text>
<text x="48.3" y="389.7" font-size="20.8" text-anchor="end">0.2</text>
<text x="48.3" y="337.7" font-size="20.8" text-anchor="end">0.4</text>
<text x="48.3" y="285.7" font-size="20.8" text-anchor="end">0.6</text>
<text x="48.3" y="233.7" font-size="20.8" text-anchor="end">0.8</text>
<text x="48.3" y="181.7" font-size="20.8" text-anchor="end">1.0</text>
<text x="48.3" y="129.7" font-size="20.8" text-anchor="end">1.2</text>
<text x="48.3" y="77.7" font-size="20.8" text-anchor="end">1.4</text>
<text x="48.3" y="25.7" font-size="20.8" text-anchor="end">1.6</text>
<rect x="73.3" y="39.6" width="177.2" height="55.4" fill="#fff" stroke="#555" stroke-width="1"/>
<path d="M83 55.4H133.2" stroke="#10f810" stroke-width="1.1" stroke-dasharray="2 2.6" fill="none"/>
<rect x="105.45" y="52.55" width="5.7" height="5.7" fill="#fff" stroke="#10f810" stroke-width="1.3"/>
<path d="M83 82.6H133.2" stroke="#ff0c0c" stroke-width="1.4" fill="none"/>
<circle cx="108.3" cy="82.6" r="3.6" fill="#fff" stroke="#ff0c0c" stroke-width="1.6"/><circle cx="108.3" cy="82.6" r="1.0" fill="#ff0c0c"/>
<text x="139.3" y="62.7" font-size="22.2">AERONET</text>
<text x="139.0" y="89.6" font-size="22.2">ITS</text>
</g>
<g id="bottom-chart">
<path d="M86.94 646.48L78.05 678.1M95.82 733.9L86.94 646.48M104.71 699.49L95.82 733.9M113.6 631.6L104.71 699.49M122.48 611.14L113.6 631.6M131.37 606.49L122.48 611.14M140.26 610.21L131.37 606.49M149.15 586.96L140.26 610.21M158.03 600.91L149.15 586.96M166.92 595.33L158.03 600.91M175.81 637.18L166.92 595.33M184.69 652.99L175.81 637.18M193.58 624.16L184.69 652.99M202.47 624.16L193.58 624.16M211.36 592.54L202.47 624.16M220.24 641.83L211.36 592.54M229.13 706.93L220.24 641.83M238.02 628.81L229.13 706.93M246.9 692.05L238.02 628.81M255.79 696.7L246.9 692.05M264.68 706L255.79 696.7M273.56 696.7L264.68 706M282.45 687.4L273.56 696.7M291.34 698.56L282.45 687.4M300.23 669.73L291.34 698.56M309.11 668.8L300.23 669.73M318 640.9L309.11 668.8M326.89 625.09L318 640.9M335.77 676.24L326.89 625.09M344.66 672.52L335.77 676.24M353.55 681.82L344.66 672.52M362.43 618.58L353.55 681.82M371.32 590.68L362.43 618.58M380.21 615.79L371.32 590.68M389.1 619.51L380.21 615.79M397.98 629.74L389.1 619.51M406.87 619.51L397.98 629.74M415.76 621.37L406.87 619.51M424.64 668.8L415.76 621.37M433.53 667.87L424.64 668.8M442.42 655.78L433.53 667.87M451.3 661.36L442.42 655.78M460.19 616.72L451.3 661.36M469.08 635.32L460.19 616.72M477.97 632.53L469.08 635.32M486.85 589.28L477.97 632.53M495.74 582.31L486.85 589.28M504.63 595.33L495.74 582.31M513.51 679.96L504.63 595.33M522.4 650.2L513.51 679.96M531.29 739.02L522.4 650.2M540.17 758.36L531.29 739.02M549.06 722.74L540.17 758.36M557.95 684.14L549.06 722.74M566.84 573.94L557.95 684.14M575.72 585.1L566.84 573.94M584.61 648.81L575.72 585.1M593.5 592.54L584.61 648.81M602.38 595.8L593.5 592.54M611.27 564.64L602.38 595.8M620.16 585.1L611.27 564.64M629.04 578.59L620.16 585.1M637.93 605.56L629.04 578.59M646.82 566.5L637.93 605.56M655.7 581.38L646.82 566.5M664.59 570.22L655.7 581.38M673.48 581.38L664.59 570.22M682.37 558.13L673.48 581.38M691.25 579.52L682.37 558.13M700.14 590.68L691.25 579.52M709.03 566.5L700.14 590.68M717.91 605.56L709.03 566.5M726.8 548.37L717.91 605.56M735.69 609.28L726.8 548.37M744.58 666.01L735.69 609.28M753.46 689.26L744.58 666.01M762.35 660.43L753.46 689.26M771.24 573.01L762.35 660.43M780.12 632.53L771.24 573.01M789.01 603.7L780.12 632.53M797.9 588.36L789.01 603.7M806.78 585.1L797.9 588.36M815.67 568.73L806.78 585.1M824.56 696.98L815.67 568.73M833.44 686.47L824.56 696.98M842.33 699.12L833.44 686.47M851.22 665.08L842.33 699.12M860.11 637.18L851.22 665.08M868.99 644.62L860.11 637.18M877.88 607.42L868.99 644.62M886.77 657.64L877.88 607.42M895.65 657.64L886.77 657.64M904.54 613.93L895.65 657.64M913.43 613.93L904.54 613.93M922.32 614.86L913.43 613.93M931.2 648.34L922.32 614.86M940.09 591.61L931.2 648.34M948.98 650.2L940.09 591.61M957.86 582.31L948.98 650.2M966.75 594.4L957.86 582.31" fill="none" stroke="#10f810" stroke-width="1.15" stroke-dasharray="4.4 4.25"/>
<rect x="75.2" y="675.25" width="5.7" height="5.7" fill="#fff" stroke="#10f810" stroke-width="1.3"/>
<rect x="84.09" y="643.63" width="5.7" height="5.7" fill="#fff" stroke="#10f810" stroke-width="1.3"/>
<rect x="92.97" y="731.05" width="5.7" height="5.7" fill="#fff" stroke="#10f810" stroke-width="1.3"/>
<rect x="101.86" y="696.64" width="5.7" height="5.7" fill="#fff" stroke="#10f810" stroke-width="1.3"/>
<rect x="110.75" y="628.75" width="5.7" height="5.7" fill="#fff" stroke="#10f810" stroke-width="1.3"/>
<rect x="119.64" y="608.29" width="5.7" height="5.7" fill="#fff" stroke="#10f810" stroke-width="1.3"/>
<rect x="128.52" y="603.64" width="5.7" height="5.7" fill="#fff" stroke="#10f810" stroke-width="1.3"/>
<rect x="137.41" y="607.36" width="5.7" height="5.7" fill="#fff" stroke="#10f810" stroke-width="1.3"/>
<rect x="146.3" y="584.11" width="5.7" height="5.7" fill="#fff" stroke="#10f810" stroke-width="1.3"/>
<rect x="155.18" y="598.06" width="5.7" height="5.7" fill="#fff" stroke="#10f810" stroke-width="1.3"/>
<rect x="164.07" y="592.48" width="5.7" height="5.7" fill="#fff" stroke="#10f810" stroke-width="1.3"/>
<rect x="172.96" y="634.33" width="5.7" height="5.7" fill="#fff" stroke="#10f810" stroke-width="1.3"/>
<rect x="181.84" y="650.14" width="5.7" height="5.7" fill="#fff" stroke="#10f810" stroke-width="1.3"/>
<rect x="190.73" y="621.31" width="5.7" height="5.7" fill="#fff" stroke="#10f810" stroke-width="1.3"/>
<rect x="199.62" y="621.31" width="5.7" height="5.7" fill="#fff" stroke="#10f810" stroke-width="1.3"/>
<rect x="208.51" y="589.69" width="5.7" height="5.7" fill="#fff" stroke="#10f810" stroke-width="1.3"/>
<rect x="217.39" y="638.98" width="5.7" height="5.7" fill="#fff" stroke="#10f810" stroke-width="1.3"/>
<rect x="226.28" y="704.08" width="5.7" height="5.7" fill="#fff" stroke="#10f810" stroke-width="1.3"/>
<rect x="235.17" y="625.96" width="5.7" height="5.7" fill="#fff" stroke="#10f810" stroke-width="1.3"/>
<rect x="244.05" y="689.2" width="5.7" height="5.7" fill="#fff" stroke="#10f810" stroke-width="1.3"/>
<rect x="252.94" y="693.85" width="5.7" height="5.7" fill="#fff" stroke="#10f810" stroke-width="1.3"/>
<rect x="261.83" y="703.15" width="5.7" height="5.7" fill="#fff" stroke="#10f810" stroke-width="1.3"/>
<rect x="270.71" y="693.85" width="5.7" height="5.7" fill="#fff" stroke="#10f810" stroke-width="1.3"/>
<rect x="279.6" y="684.55" width="5.7" height="5.7" fill="#fff" stroke="#10f810" stroke-width="1.3"/>
<rect x="288.49" y="695.71" width="5.7" height="5.7" fill="#fff" stroke="#10f810" stroke-width="1.3"/>
<rect x="297.38" y="666.88" width="5.7" height="5.7" fill="#fff" stroke="#10f810" stroke-width="1.3"/>
<rect x="306.26" y="665.95" width="5.7" height="5.7" fill="#fff" stroke="#10f810" stroke-width="1.3"/>
<rect x="315.15" y="638.05" width="5.7" height="5.7" fill="#fff" stroke="#10f810" stroke-width="1.3"/>
<rect x="324.04" y="622.24" width="5.7" height="5.7" fill="#fff" stroke="#10f810" stroke-width="1.3"/>
<rect x="332.92" y="673.39" width="5.7" height="5.7" fill="#fff" stroke="#10f810" stroke-width="1.3"/>
<rect x="341.81" y="669.67" width="5.7" height="5.7" fill="#fff" stroke="#10f810" stroke-width="1.3"/>
<rect x="350.7" y="678.97" width="5.7" height="5.7" fill="#fff" stroke="#10f810" stroke-width="1.3"/>
<rect x="359.58" y="615.73" width="5.7" height="5.7" fill="#fff" stroke="#10f810" stroke-width="1.3"/>
<rect x="368.47" y="587.83" width="5.7" height="5.7" fill="#fff" stroke="#10f810" stroke-width="1.3"/>
<rect x="377.36" y="612.94" width="5.7" height="5.7" fill="#fff" stroke="#10f810" stroke-width="1.3"/>
<rect x="386.25" y="616.66" width="5.7" height="5.7" fill="#fff" stroke="#10f810" stroke-width="1.3"/>
<rect x="395.13" y="626.89" width="5.7" height="5.7" fill="#fff" stroke="#10f810" stroke-width="1.3"/>
<rect x="404.02" y="616.66" width="5.7" height="5.7" fill="#fff" stroke="#10f810" stroke-width="1.3"/>
<rect x="412.91" y="618.52" width="5.7" height="5.7" fill="#fff" stroke="#10f810" stroke-width="1.3"/>
<rect x="421.79" y="665.95" width="5.7" height="5.7" fill="#fff" stroke="#10f810" stroke-width="1.3"/>
<rect x="430.68" y="665.02" width="5.7" height="5.7" fill="#fff" stroke="#10f810" stroke-width="1.3"/>
<rect x="439.57" y="652.93" width="5.7" height="5.7" fill="#fff" stroke="#10f810" stroke-width="1.3"/>
<rect x="448.45" y="658.51" width="5.7" height="5.7" fill="#fff" stroke="#10f810" stroke-width="1.3"/>
<rect x="457.34" y="613.87" width="5.7" height="5.7" fill="#fff" stroke="#10f810" stroke-width="1.3"/>
<rect x="466.23" y="632.47" width="5.7" height="5.7" fill="#fff" stroke="#10f810" stroke-width="1.3"/>
<rect x="475.12" y="629.68" width="5.7" height="5.7" fill="#fff" stroke="#10f810" stroke-width="1.3"/>
<rect x="484" y="586.43" width="5.7" height="5.7" fill="#fff" stroke="#10f810" stroke-width="1.3"/>
<rect x="492.89" y="579.46" width="5.7" height="5.7" fill="#fff" stroke="#10f810" stroke-width="1.3"/>
<rect x="501.78" y="592.48" width="5.7" height="5.7" fill="#fff" stroke="#10f810" stroke-width="1.3"/>
<rect x="510.66" y="677.11" width="5.7" height="5.7" fill="#fff" stroke="#10f810" stroke-width="1.3"/>
<rect x="519.55" y="647.35" width="5.7" height="5.7" fill="#fff" stroke="#10f810" stroke-width="1.3"/>
<rect x="528.44" y="736.17" width="5.7" height="5.7" fill="#fff" stroke="#10f810" stroke-width="1.3"/>
<rect x="537.32" y="755.51" width="5.7" height="5.7" fill="#fff" stroke="#10f810" stroke-width="1.3"/>
<rect x="546.21" y="719.89" width="5.7" height="5.7" fill="#fff" stroke="#10f810" stroke-width="1.3"/>
<rect x="555.1" y="681.29" width="5.7" height="5.7" fill="#fff" stroke="#10f810" stroke-width="1.3"/>
<rect x="563.99" y="571.09" width="5.7" height="5.7" fill="#fff" stroke="#10f810" stroke-width="1.3"/>
<rect x="572.87" y="582.25" width="5.7" height="5.7" fill="#fff" stroke="#10f810" stroke-width="1.3"/>
<rect x="581.76" y="645.96" width="5.7" height="5.7" fill="#fff" stroke="#10f810" stroke-width="1.3"/>
<rect x="590.65" y="589.69" width="5.7" height="5.7" fill="#fff" stroke="#10f810" stroke-width="1.3"/>
<rect x="599.53" y="592.95" width="5.7" height="5.7" fill="#fff" stroke="#10f810" stroke-width="1.3"/>
<rect x="608.42" y="561.79" width="5.7" height="5.7" fill="#fff" stroke="#10f810" stroke-width="1.3"/>
<rect x="617.31" y="582.25" width="5.7" height="5.7" fill="#fff" stroke="#10f810" stroke-width="1.3"/>
<rect x="626.19" y="575.74" width="5.7" height="5.7" fill="#fff" stroke="#10f810" stroke-width="1.3"/>
<rect x="635.08" y="602.71" width="5.7" height="5.7" fill="#fff" stroke="#10f810" stroke-width="1.3"/>
<rect x="643.97" y="563.65" width="5.7" height="5.7" fill="#fff" stroke="#10f810" stroke-width="1.3"/>
<rect x="652.85" y="578.53" width="5.7" height="5.7" fill="#fff" stroke="#10f810" stroke-width="1.3"/>
<rect x="661.74" y="567.37" width="5.7" height="5.7" fill="#fff" stroke="#10f810" stroke-width="1.3"/>
<rect x="670.63" y="578.53" width="5.7" height="5.7" fill="#fff" stroke="#10f810" stroke-width="1.3"/>
<rect x="679.52" y="555.28" width="5.7" height="5.7" fill="#fff" stroke="#10f810" stroke-width="1.3"/>
<rect x="688.4" y="576.67" width="5.7" height="5.7" fill="#fff" stroke="#10f810" stroke-width="1.3"/>
<rect x="697.29" y="587.83" width="5.7" height="5.7" fill="#fff" stroke="#10f810" stroke-width="1.3"/>
<rect x="706.18" y="563.65" width="5.7" height="5.7" fill="#fff" stroke="#10f810" stroke-width="1.3"/>
<rect x="715.06" y="602.71" width="5.7" height="5.7" fill="#fff" stroke="#10f810" stroke-width="1.3"/>
<rect x="723.95" y="545.51" width="5.7" height="5.7" fill="#fff" stroke="#10f810" stroke-width="1.3"/>
<rect x="732.84" y="606.43" width="5.7" height="5.7" fill="#fff" stroke="#10f810" stroke-width="1.3"/>
<rect x="741.73" y="663.16" width="5.7" height="5.7" fill="#fff" stroke="#10f810" stroke-width="1.3"/>
<rect x="750.61" y="686.41" width="5.7" height="5.7" fill="#fff" stroke="#10f810" stroke-width="1.3"/>
<rect x="759.5" y="657.58" width="5.7" height="5.7" fill="#fff" stroke="#10f810" stroke-width="1.3"/>
<rect x="768.39" y="570.16" width="5.7" height="5.7" fill="#fff" stroke="#10f810" stroke-width="1.3"/>
<rect x="777.27" y="629.68" width="5.7" height="5.7" fill="#fff" stroke="#10f810" stroke-width="1.3"/>
<rect x="786.16" y="600.85" width="5.7" height="5.7" fill="#fff" stroke="#10f810" stroke-width="1.3"/>
<rect x="795.05" y="585.5" width="5.7" height="5.7" fill="#fff" stroke="#10f810" stroke-width="1.3"/>
<rect x="803.93" y="582.25" width="5.7" height="5.7" fill="#fff" stroke="#10f810" stroke-width="1.3"/>
<rect x="812.82" y="565.88" width="5.7" height="5.7" fill="#fff" stroke="#10f810" stroke-width="1.3"/>
<rect x="821.71" y="694.13" width="5.7" height="5.7" fill="#fff" stroke="#10f810" stroke-width="1.3"/>
<rect x="830.59" y="683.62" width="5.7" height="5.7" fill="#fff" stroke="#10f810" stroke-width="1.3"/>
<rect x="839.48" y="696.27" width="5.7" height="5.7" fill="#fff" stroke="#10f810" stroke-width="1.3"/>
<rect x="848.37" y="662.23" width="5.7" height="5.7" fill="#fff" stroke="#10f810" stroke-width="1.3"/>
<rect x="857.26" y="634.33" width="5.7" height="5.7" fill="#fff" stroke="#10f810" stroke-width="1.3"/>
<rect x="866.14" y="641.77" width="5.7" height="5.7" fill="#fff" stroke="#10f810" stroke-width="1.3"/>
<rect x="875.03" y="604.57" width="5.7" height="5.7" fill="#fff" stroke="#10f810" stroke-width="1.3"/>
<rect x="883.92" y="654.79" width="5.7" height="5.7" fill="#fff" stroke="#10f810" stroke-width="1.3"/>
<rect x="892.8" y="654.79" width="5.7" height="5.7" fill="#fff" stroke="#10f810" stroke-width="1.3"/>
<rect x="901.69" y="611.08" width="5.7" height="5.7" fill="#fff" stroke="#10f810" stroke-width="1.3"/>
<rect x="910.58" y="611.08" width="5.7" height="5.7" fill="#fff" stroke="#10f810" stroke-width="1.3"/>
<rect x="919.47" y="612.01" width="5.7" height="5.7" fill="#fff" stroke="#10f810" stroke-width="1.3"/>
<rect x="928.35" y="645.49" width="5.7" height="5.7" fill="#fff" stroke="#10f810" stroke-width="1.3"/>
<rect x="937.24" y="588.76" width="5.7" height="5.7" fill="#fff" stroke="#10f810" stroke-width="1.3"/>
<rect x="946.13" y="647.35" width="5.7" height="5.7" fill="#fff" stroke="#10f810" stroke-width="1.3"/>
<rect x="955.01" y="579.46" width="5.7" height="5.7" fill="#fff" stroke="#10f810" stroke-width="1.3"/>
<rect x="963.9" y="591.55" width="5.7" height="5.7" fill="#fff" stroke="#10f810" stroke-width="1.3"/>
<polyline points="78.05,585.1 86.94,585.1 95.82,585.1 104.71,585.1 113.6,585.1 122.48,585.1 131.37,585.1 140.26,585.1 149.15,585.1 158.03,585.1 166.92,585.1 175.81,585.1 184.69,627.88 193.58,585.1 202.47,585.1 211.36,585.1 220.24,585.1 229.13,627.88 238.02,575.8 246.9,585.1 255.79,627.88 264.68,585.1 273.56,585.1 282.45,627.88 291.34,627.88 300.23,585.1 309.11,627.88 318,575.8 326.89,575.8 335.77,585.1 344.66,575.8 353.55,627.88 362.43,585.1 371.32,585.1 380.21,585.1 389.1,627.88 397.98,585.1 406.87,585.1 415.76,575.8 424.64,575.8 433.53,575.8 442.42,575.8 451.3,585.1 460.19,585.1 469.08,627.88 477.97,585.1 486.85,585.1 495.74,627.88 504.63,585.1 513.51,585.1 522.4,585.1 531.29,627.88 540.17,585.1 549.06,636.25 557.95,627.88 566.84,585.1 575.72,585.1 584.61,585.1 593.5,585.1 602.38,585.1 611.27,585.1 620.16,585.1 629.04,585.1 637.93,585.1 646.82,575.8 655.7,575.8 664.59,585.1 673.48,585.1 682.37,585.1 691.25,585.1 700.14,585.1 709.03,585.1 717.91,585.1 726.8,585.1 735.69,575.8 744.58,627.88 753.46,585.1 762.35,715.3 771.24,715.3 780.12,715.3 789.01,585.1 797.9,627.88 806.78,585.1 815.67,575.8 824.56,636.25 833.44,585.1 842.33,585.1 851.22,636.25 860.11,627.88 868.99,715.3 877.88,636.25 886.77,636.25 895.65,575.8 904.54,627.88 913.43,575.8 922.32,627.88 931.2,627.88 940.09,585.1 948.98,715.3 957.86,636.25 966.75,575.8" fill="none" stroke="#ff0c0c" stroke-width="1.1" stroke-linejoin="round"/>
<circle cx="78.05" cy="585.1" r="3.65" fill="#fff" stroke="#ff0c0c" stroke-width="1.55"/><circle cx="78.05" cy="585.1" r="0.95" fill="#ff0c0c"/>
<circle cx="86.94" cy="585.1" r="3.65" fill="#fff" stroke="#ff0c0c" stroke-width="1.55"/><circle cx="86.94" cy="585.1" r="0.95" fill="#ff0c0c"/>
<circle cx="95.82" cy="585.1" r="3.65" fill="#fff" stroke="#ff0c0c" stroke-width="1.55"/><circle cx="95.82" cy="585.1" r="0.95" fill="#ff0c0c"/>
<circle cx="104.71" cy="585.1" r="3.65" fill="#fff" stroke="#ff0c0c" stroke-width="1.55"/><circle cx="104.71" cy="585.1" r="0.95" fill="#ff0c0c"/>
<circle cx="113.6" cy="585.1" r="3.65" fill="#fff" stroke="#ff0c0c" stroke-width="1.55"/><circle cx="113.6" cy="585.1" r="0.95" fill="#ff0c0c"/>
<circle cx="122.48" cy="585.1" r="3.65" fill="#fff" stroke="#ff0c0c" stroke-width="1.55"/><circle cx="122.48" cy="585.1" r="0.95" fill="#ff0c0c"/>
<circle cx="131.37" cy="585.1" r="3.65" fill="#fff" stroke="#ff0c0c" stroke-width="1.55"/><circle cx="131.37" cy="585.1" r="0.95" fill="#ff0c0c"/>
<circle cx="140.26" cy="585.1" r="3.65" fill="#fff" stroke="#ff0c0c" stroke-width="1.55"/><circle cx="140.26" cy="585.1" r="0.95" fill="#ff0c0c"/>
<circle cx="149.15" cy="585.1" r="3.65" fill="#fff" stroke="#ff0c0c" stroke-width="1.55"/><circle cx="149.15" cy="585.1" r="0.95" fill="#ff0c0c"/>
<circle cx="158.03" cy="585.1" r="3.65" fill="#fff" stroke="#ff0c0c" stroke-width="1.55"/><circle cx="158.03" cy="585.1" r="0.95" fill="#ff0c0c"/>
<circle cx="166.92" cy="585.1" r="3.65" fill="#fff" stroke="#ff0c0c" stroke-width="1.55"/><circle cx="166.92" cy="585.1" r="0.95" fill="#ff0c0c"/>
<circle cx="175.81" cy="585.1" r="3.65" fill="#fff" stroke="#ff0c0c" stroke-width="1.55"/><circle cx="175.81" cy="585.1" r="0.95" fill="#ff0c0c"/>
<rect x="181.79" y="624.98" width="5.8" height="5.8" fill="#ff0c0c"/>
<circle cx="193.58" cy="585.1" r="3.65" fill="#fff" stroke="#ff0c0c" stroke-width="1.55"/><circle cx="193.58" cy="585.1" r="0.95" fill="#ff0c0c"/>
<circle cx="202.47" cy="585.1" r="3.65" fill="#fff" stroke="#ff0c0c" stroke-width="1.55"/><circle cx="202.47" cy="585.1" r="0.95" fill="#ff0c0c"/>
<circle cx="211.36" cy="585.1" r="3.65" fill="#fff" stroke="#ff0c0c" stroke-width="1.55"/><circle cx="211.36" cy="585.1" r="0.95" fill="#ff0c0c"/>
<circle cx="220.24" cy="585.1" r="3.65" fill="#fff" stroke="#ff0c0c" stroke-width="1.55"/><circle cx="220.24" cy="585.1" r="0.95" fill="#ff0c0c"/>
<rect x="226.23" y="624.98" width="5.8" height="5.8" fill="#ff0c0c"/>
<circle cx="238.02" cy="575.8" r="3.65" fill="#fff" stroke="#0c0cff" stroke-width="1.55"/><circle cx="238.02" cy="575.8" r="0.95" fill="#0c0cff"/>
<circle cx="246.9" cy="585.1" r="3.65" fill="#fff" stroke="#ff0c0c" stroke-width="1.55"/><circle cx="246.9" cy="585.1" r="0.95" fill="#ff0c0c"/>
<rect x="252.89" y="624.98" width="5.8" height="5.8" fill="#ff0c0c"/>
<circle cx="264.68" cy="585.1" r="3.65" fill="#fff" stroke="#ff0c0c" stroke-width="1.55"/><circle cx="264.68" cy="585.1" r="0.95" fill="#ff0c0c"/>
<circle cx="273.56" cy="585.1" r="3.65" fill="#fff" stroke="#ff0c0c" stroke-width="1.55"/><circle cx="273.56" cy="585.1" r="0.95" fill="#ff0c0c"/>
<rect x="279.55" y="624.98" width="5.8" height="5.8" fill="#ff0c0c"/>
<rect x="288.44" y="624.98" width="5.8" height="5.8" fill="#ff0c0c"/>
<circle cx="300.23" cy="585.1" r="3.65" fill="#fff" stroke="#ff0c0c" stroke-width="1.55"/><circle cx="300.23" cy="585.1" r="0.95" fill="#ff0c0c"/>
<rect x="306.21" y="624.98" width="5.8" height="5.8" fill="#ff0c0c"/>
<circle cx="318" cy="575.8" r="3.65" fill="#fff" stroke="#0c0cff" stroke-width="1.55"/><circle cx="318" cy="575.8" r="0.95" fill="#0c0cff"/>
<circle cx="326.89" cy="575.8" r="3.65" fill="#fff" stroke="#0c0cff" stroke-width="1.55"/><circle cx="326.89" cy="575.8" r="0.95" fill="#0c0cff"/>
<circle cx="335.77" cy="585.1" r="3.65" fill="#fff" stroke="#ff0c0c" stroke-width="1.55"/><circle cx="335.77" cy="585.1" r="0.95" fill="#ff0c0c"/>
<circle cx="344.66" cy="575.8" r="3.65" fill="#fff" stroke="#0c0cff" stroke-width="1.55"/><circle cx="344.66" cy="575.8" r="0.95" fill="#0c0cff"/>
<rect x="350.65" y="624.98" width="5.8" height="5.8" fill="#ff0c0c"/>
<circle cx="362.43" cy="585.1" r="3.65" fill="#fff" stroke="#ff0c0c" stroke-width="1.55"/><circle cx="362.43" cy="585.1" r="0.95" fill="#ff0c0c"/>
<circle cx="371.32" cy="585.1" r="3.65" fill="#fff" stroke="#ff0c0c" stroke-width="1.55"/><circle cx="371.32" cy="585.1" r="0.95" fill="#ff0c0c"/>
<circle cx="380.21" cy="585.1" r="3.65" fill="#fff" stroke="#ff0c0c" stroke-width="1.55"/><circle cx="380.21" cy="585.1" r="0.95" fill="#ff0c0c"/>
<rect x="386.2" y="624.98" width="5.8" height="5.8" fill="#ff0c0c"/>
<circle cx="397.98" cy="585.1" r="3.65" fill="#fff" stroke="#ff0c0c" stroke-width="1.55"/><circle cx="397.98" cy="585.1" r="0.95" fill="#ff0c0c"/>
<circle cx="406.87" cy="585.1" r="3.65" fill="#fff" stroke="#ff0c0c" stroke-width="1.55"/><circle cx="406.87" cy="585.1" r="0.95" fill="#ff0c0c"/>
<circle cx="415.76" cy="575.8" r="3.65" fill="#fff" stroke="#0c0cff" stroke-width="1.55"/><circle cx="415.76" cy="575.8" r="0.95" fill="#0c0cff"/>
<circle cx="424.64" cy="575.8" r="3.65" fill="#fff" stroke="#0c0cff" stroke-width="1.55"/><circle cx="424.64" cy="575.8" r="0.95" fill="#0c0cff"/>
<circle cx="433.53" cy="575.8" r="3.65" fill="#fff" stroke="#0c0cff" stroke-width="1.55"/><circle cx="433.53" cy="575.8" r="0.95" fill="#0c0cff"/>
<circle cx="442.42" cy="575.8" r="3.65" fill="#fff" stroke="#0c0cff" stroke-width="1.55"/><circle cx="442.42" cy="575.8" r="0.95" fill="#0c0cff"/>
<circle cx="451.3" cy="585.1" r="3.65" fill="#fff" stroke="#ff0c0c" stroke-width="1.55"/><circle cx="451.3" cy="585.1" r="0.95" fill="#ff0c0c"/>
<circle cx="460.19" cy="585.1" r="3.65" fill="#fff" stroke="#ff0c0c" stroke-width="1.55"/><circle cx="460.19" cy="585.1" r="0.95" fill="#ff0c0c"/>
<rect x="466.18" y="624.98" width="5.8" height="5.8" fill="#ff0c0c"/>
<circle cx="477.97" cy="585.1" r="3.65" fill="#fff" stroke="#ff0c0c" stroke-width="1.55"/><circle cx="477.97" cy="585.1" r="0.95" fill="#ff0c0c"/>
<circle cx="486.85" cy="585.1" r="3.65" fill="#fff" stroke="#ff0c0c" stroke-width="1.55"/><circle cx="486.85" cy="585.1" r="0.95" fill="#ff0c0c"/>
<rect x="492.84" y="624.98" width="5.8" height="5.8" fill="#ff0c0c"/>
<circle cx="504.63" cy="585.1" r="3.65" fill="#fff" stroke="#ff0c0c" stroke-width="1.55"/><circle cx="504.63" cy="585.1" r="0.95" fill="#ff0c0c"/>
<circle cx="513.51" cy="585.1" r="3.65" fill="#fff" stroke="#ff0c0c" stroke-width="1.55"/><circle cx="513.51" cy="585.1" r="0.95" fill="#ff0c0c"/>
<circle cx="522.4" cy="585.1" r="3.65" fill="#fff" stroke="#ff0c0c" stroke-width="1.55"/><circle cx="522.4" cy="585.1" r="0.95" fill="#ff0c0c"/>
<rect x="528.39" y="624.98" width="5.8" height="5.8" fill="#ff0c0c"/>
<circle cx="540.17" cy="585.1" r="3.65" fill="#fff" stroke="#ff0c0c" stroke-width="1.55"/><circle cx="540.17" cy="585.1" r="0.95" fill="#ff0c0c"/>
<path d="M545.06 633.6L553.06 633.6L549.06 640.75Z" fill="#fff" stroke="#0c0cff" stroke-width="1.6" stroke-linejoin="miter"/><circle cx="549.06" cy="636.25" r="0.8" fill="#0c0cff"/>
<rect x="555.05" y="624.98" width="5.8" height="5.8" fill="#ff0c0c"/>
<circle cx="566.84" cy="585.1" r="3.65" fill="#fff" stroke="#ff0c0c" stroke-width="1.55"/><circle cx="566.84" cy="585.1" r="0.95" fill="#ff0c0c"/>
<circle cx="575.72" cy="585.1" r="3.65" fill="#fff" stroke="#ff0c0c" stroke-width="1.55"/><circle cx="575.72" cy="585.1" r="0.95" fill="#ff0c0c"/>
<circle cx="584.61" cy="585.1" r="3.65" fill="#fff" stroke="#ff0c0c" stroke-width="1.55"/><circle cx="584.61" cy="585.1" r="0.95" fill="#ff0c0c"/>
<circle cx="593.5" cy="585.1" r="3.65" fill="#fff" stroke="#ff0c0c" stroke-width="1.55"/><circle cx="593.5" cy="585.1" r="0.95" fill="#ff0c0c"/>
<circle cx="602.38" cy="585.1" r="3.65" fill="#fff" stroke="#ff0c0c" stroke-width="1.55"/><circle cx="602.38" cy="585.1" r="0.95" fill="#ff0c0c"/>
<circle cx="611.27" cy="585.1" r="3.65" fill="#fff" stroke="#ff0c0c" stroke-width="1.55"/><circle cx="611.27" cy="585.1" r="0.95" fill="#ff0c0c"/>
<circle cx="620.16" cy="585.1" r="3.65" fill="#fff" stroke="#ff0c0c" stroke-width="1.55"/><circle cx="620.16" cy="585.1" r="0.95" fill="#ff0c0c"/>
<circle cx="629.04" cy="585.1" r="3.65" fill="#fff" stroke="#ff0c0c" stroke-width="1.55"/><circle cx="629.04" cy="585.1" r="0.95" fill="#ff0c0c"/>
<circle cx="637.93" cy="585.1" r="3.65" fill="#fff" stroke="#ff0c0c" stroke-width="1.55"/><circle cx="637.93" cy="585.1" r="0.95" fill="#ff0c0c"/>
<circle cx="646.82" cy="575.8" r="3.65" fill="#fff" stroke="#0c0cff" stroke-width="1.55"/><circle cx="646.82" cy="575.8" r="0.95" fill="#0c0cff"/>
<circle cx="655.7" cy="575.8" r="3.65" fill="#fff" stroke="#0c0cff" stroke-width="1.55"/><circle cx="655.7" cy="575.8" r="0.95" fill="#0c0cff"/>
<circle cx="664.59" cy="585.1" r="3.65" fill="#fff" stroke="#ff0c0c" stroke-width="1.55"/><circle cx="664.59" cy="585.1" r="0.95" fill="#ff0c0c"/>
<circle cx="673.48" cy="585.1" r="3.65" fill="#fff" stroke="#ff0c0c" stroke-width="1.55"/><circle cx="673.48" cy="585.1" r="0.95" fill="#ff0c0c"/>
<circle cx="682.37" cy="585.1" r="3.65" fill="#fff" stroke="#ff0c0c" stroke-width="1.55"/><circle cx="682.37" cy="585.1" r="0.95" fill="#ff0c0c"/>
<circle cx="691.25" cy="585.1" r="3.65" fill="#fff" stroke="#ff0c0c" stroke-width="1.55"/><circle cx="691.25" cy="585.1" r="0.95" fill="#ff0c0c"/>
<circle cx="700.14" cy="585.1" r="3.65" fill="#fff" stroke="#ff0c0c" stroke-width="1.55"/><circle cx="700.14" cy="585.1" r="0.95" fill="#ff0c0c"/>
<circle cx="709.03" cy="585.1" r="3.65" fill="#fff" stroke="#ff0c0c" stroke-width="1.55"/><circle cx="709.03" cy="585.1" r="0.95" fill="#ff0c0c"/>
<circle cx="717.91" cy="585.1" r="3.65" fill="#fff" stroke="#ff0c0c" stroke-width="1.55"/><circle cx="717.91" cy="585.1" r="0.95" fill="#ff0c0c"/>
<circle cx="726.8" cy="585.1" r="3.65" fill="#fff" stroke="#ff0c0c" stroke-width="1.55"/><circle cx="726.8" cy="585.1" r="0.95" fill="#ff0c0c"/>
<circle cx="735.69" cy="575.8" r="3.65" fill="#fff" stroke="#0c0cff" stroke-width="1.55"/><circle cx="735.69" cy="575.8" r="0.95" fill="#0c0cff"/>
<rect x="741.68" y="624.98" width="5.8" height="5.8" fill="#ff0c0c"/>
<circle cx="753.46" cy="585.1" r="3.65" fill="#fff" stroke="#ff0c0c" stroke-width="1.55"/><circle cx="753.46" cy="585.1" r="0.95" fill="#ff0c0c"/>
<path d="M762.35 711.2L763.35 714.02L766.34 714.1L763.97 715.93L764.82 718.8L762.35 717.1L759.88 718.8L760.73 715.93L758.35 714.1L761.35 714.02Z" fill="#fff" stroke="#1a1a1a" stroke-width="1.45" stroke-linejoin="round"/>
<path d="M771.24 711.2L772.24 714.02L775.23 714.1L772.85 715.93L773.7 718.8L771.24 717.1L768.77 718.8L769.62 715.93L767.24 714.1L770.24 714.02Z" fill="#fff" stroke="#1a1a1a" stroke-width="1.45" stroke-linejoin="round"/>
<path d="M780.12 711.2L781.12 714.02L784.12 714.1L781.74 715.93L782.59 718.8L780.12 717.1L777.65 718.8L778.51 715.93L776.13 714.1L779.12 714.02Z" fill="#fff" stroke="#1a1a1a" stroke-width="1.45" stroke-linejoin="round"/>
<circle cx="789.01" cy="585.1" r="3.65" fill="#fff" stroke="#ff0c0c" stroke-width="1.55"/><circle cx="789.01" cy="585.1" r="0.95" fill="#ff0c0c"/>
<rect x="795" y="624.98" width="5.8" height="5.8" fill="#ff0c0c"/>
<circle cx="806.78" cy="585.1" r="3.65" fill="#fff" stroke="#ff0c0c" stroke-width="1.55"/><circle cx="806.78" cy="585.1" r="0.95" fill="#ff0c0c"/>
<circle cx="815.67" cy="575.8" r="3.65" fill="#fff" stroke="#0c0cff" stroke-width="1.55"/><circle cx="815.67" cy="575.8" r="0.95" fill="#0c0cff"/>
<path d="M820.56 633.6L828.56 633.6L824.56 640.75Z" fill="#fff" stroke="#0c0cff" stroke-width="1.6" stroke-linejoin="miter"/><circle cx="824.56" cy="636.25" r="0.8" fill="#0c0cff"/>
<circle cx="833.44" cy="585.1" r="3.65" fill="#fff" stroke="#ff0c0c" stroke-width="1.55"/><circle cx="833.44" cy="585.1" r="0.95" fill="#ff0c0c"/>
<circle cx="842.33" cy="585.1" r="3.65" fill="#fff" stroke="#ff0c0c" stroke-width="1.55"/><circle cx="842.33" cy="585.1" r="0.95" fill="#ff0c0c"/>
<path d="M847.22 633.6L855.22 633.6L851.22 640.75Z" fill="#fff" stroke="#0c0cff" stroke-width="1.6" stroke-linejoin="miter"/><circle cx="851.22" cy="636.25" r="0.8" fill="#0c0cff"/>
<rect x="857.21" y="624.98" width="5.8" height="5.8" fill="#ff0c0c"/>
<path d="M868.99 711.2L869.99 714.02L872.99 714.1L870.61 715.93L871.46 718.8L868.99 717.1L866.52 718.8L867.38 715.93L865 714.1L867.99 714.02Z" fill="#fff" stroke="#1a1a1a" stroke-width="1.45" stroke-linejoin="round"/>
<path d="M873.88 633.6L881.88 633.6L877.88 640.75Z" fill="#fff" stroke="#0c0cff" stroke-width="1.6" stroke-linejoin="miter"/><circle cx="877.88" cy="636.25" r="0.8" fill="#0c0cff"/>
<path d="M882.77 633.6L890.77 633.6L886.77 640.75Z" fill="#fff" stroke="#0c0cff" stroke-width="1.6" stroke-linejoin="miter"/><circle cx="886.77" cy="636.25" r="0.8" fill="#0c0cff"/>
<circle cx="895.65" cy="575.8" r="3.65" fill="#fff" stroke="#0c0cff" stroke-width="1.55"/><circle cx="895.65" cy="575.8" r="0.95" fill="#0c0cff"/>
<rect x="901.64" y="624.98" width="5.8" height="5.8" fill="#ff0c0c"/>
<circle cx="913.43" cy="575.8" r="3.65" fill="#fff" stroke="#0c0cff" stroke-width="1.55"/><circle cx="913.43" cy="575.8" r="0.95" fill="#0c0cff"/>
<rect x="919.42" y="624.98" width="5.8" height="5.8" fill="#ff0c0c"/>
<rect x="928.3" y="624.98" width="5.8" height="5.8" fill="#ff0c0c"/>
<circle cx="940.09" cy="585.1" r="3.65" fill="#fff" stroke="#ff0c0c" stroke-width="1.55"/><circle cx="940.09" cy="585.1" r="0.95" fill="#ff0c0c"/>
<path d="M948.98 711.2L949.98 714.02L952.97 714.1L950.59 715.93L951.44 718.8L948.98 717.1L946.51 718.8L947.36 715.93L944.98 714.1L947.98 714.02Z" fill="#fff" stroke="#1a1a1a" stroke-width="1.45" stroke-linejoin="round"/>
<path d="M953.86 633.6L961.86 633.6L957.86 640.75Z" fill="#fff" stroke="#0c0cff" stroke-width="1.6" stroke-linejoin="miter"/><circle cx="957.86" cy="636.25" r="0.8" fill="#0c0cff"/>
<circle cx="966.75" cy="575.8" r="3.65" fill="#fff" stroke="#0c0cff" stroke-width="1.55"/><circle cx="966.75" cy="575.8" r="0.95" fill="#0c0cff"/>
<path d="M86.94 901.3L78.05 882.7M95.82 873.4L86.94 901.3M104.71 882.7L95.82 873.4M113.6 873.4L104.71 882.7M122.48 882.7L113.6 873.4M131.37 873.4L122.48 882.7M140.26 864.1L131.37 873.4M149.15 873.4L140.26 864.1M158.03 873.4L149.15 873.4M166.92 873.4L158.03 873.4M175.81 845.5L166.92 873.4M184.69 882.7L175.81 845.5M193.58 919.9L184.69 882.7M202.47 854.8L193.58 919.9M211.36 873.4L202.47 854.8M220.24 845.5L211.36 873.4M229.13 826.9L220.24 845.5M238.02 845.5L229.13 826.9M246.9 882.7L238.02 845.5M255.79 892L246.9 882.7M264.68 901.3L255.79 892M273.56 882.7L264.68 901.3M282.45 901.3L273.56 882.7M291.34 910.6L282.45 901.3M300.23 882.7L291.34 910.6M309.11 892L300.23 882.7M318 901.3L309.11 892M326.89 873.4L318 901.3M335.77 854.8L326.89 873.4M344.66 864.1L335.77 854.8M353.55 864.1L344.66 864.1M362.43 845.5L353.55 864.1M371.32 854.8L362.43 845.5M380.21 854.8L371.32 854.8M389.1 854.8L380.21 854.8M397.98 864.1L389.1 854.8M406.87 892L397.98 864.1M415.76 873.4L406.87 892M424.64 864.1L415.76 873.4M433.53 864.1L424.64 864.1M442.42 864.1L433.53 864.1M451.3 901.3L442.42 864.1M460.19 826.9L451.3 901.3M469.08 845.5L460.19 826.9M477.97 854.8L469.08 845.5M486.85 836.2L477.97 854.8M495.74 836.2L486.85 836.2M504.63 845.5L495.74 836.2M513.51 910.6L504.63 845.5M522.4 882.7L513.51 910.6M531.29 882.7L522.4 882.7M540.17 845.5L531.29 882.7M549.06 854.8L540.17 845.5M557.95 892L549.06 854.8M566.84 873.4L557.95 892M575.72 882.7L566.84 873.4M584.61 873.4L575.72 882.7M593.5 873.4L584.61 873.4M602.38 873.4L593.5 873.4M611.27 864.1L602.38 873.4M620.16 873.4L611.27 864.1M629.04 826.9L620.16 873.4M637.93 836.2L629.04 826.9M646.82 836.2L637.93 836.2M655.7 854.8L646.82 836.2M664.59 864.1L655.7 854.8M673.48 864.1L664.59 864.1M682.37 864.1L673.48 864.1M691.25 854.8L682.37 864.1M700.14 854.8L691.25 854.8M709.03 864.1L700.14 854.8M717.91 845.5L709.03 864.1M726.8 836.2L717.91 845.5M735.69 845.5L726.8 836.2M744.58 799L735.69 845.5M753.46 901.3L744.58 799M762.35 910.6L753.46 901.3M771.24 854.8L762.35 910.6M780.12 854.8L771.24 854.8M789.01 882.7L780.12 854.8M797.9 892L789.01 882.7M806.78 873.4L797.9 892M815.67 864.1L806.78 873.4M824.56 826.9L815.67 864.1M833.44 836.2L824.56 826.9M842.33 892L833.44 836.2M851.22 873.4L842.33 892M860.11 892L851.22 873.4M868.99 873.4L860.11 892M877.88 836.2L868.99 873.4M886.77 892L877.88 836.2M895.65 901.3L886.77 892M904.54 892L895.65 901.3M913.43 854.8L904.54 892M922.32 854.8L913.43 854.8M931.2 892L922.32 854.8M940.09 845.5L931.2 892M948.98 836.2L940.09 845.5M957.86 873.4L948.98 836.2M966.75 854.8L957.86 873.4" fill="none" stroke="#10f810" stroke-width="1.15" stroke-dasharray="4.4 4.25"/>
<rect x="75.2" y="879.85" width="5.7" height="5.7" fill="#fff" stroke="#10f810" stroke-width="1.3"/>
<rect x="84.09" y="898.45" width="5.7" height="5.7" fill="#fff" stroke="#10f810" stroke-width="1.3"/>
<rect x="92.97" y="870.55" width="5.7" height="5.7" fill="#fff" stroke="#10f810" stroke-width="1.3"/>
<rect x="101.86" y="879.85" width="5.7" height="5.7" fill="#fff" stroke="#10f810" stroke-width="1.3"/>
<rect x="110.75" y="870.55" width="5.7" height="5.7" fill="#fff" stroke="#10f810" stroke-width="1.3"/>
<rect x="119.64" y="879.85" width="5.7" height="5.7" fill="#fff" stroke="#10f810" stroke-width="1.3"/>
<rect x="128.52" y="870.55" width="5.7" height="5.7" fill="#fff" stroke="#10f810" stroke-width="1.3"/>
<rect x="137.41" y="861.25" width="5.7" height="5.7" fill="#fff" stroke="#10f810" stroke-width="1.3"/>
<rect x="146.3" y="870.55" width="5.7" height="5.7" fill="#fff" stroke="#10f810" stroke-width="1.3"/>
<rect x="155.18" y="870.55" width="5.7" height="5.7" fill="#fff" stroke="#10f810" stroke-width="1.3"/>
<rect x="164.07" y="870.55" width="5.7" height="5.7" fill="#fff" stroke="#10f810" stroke-width="1.3"/>
<rect x="172.96" y="842.65" width="5.7" height="5.7" fill="#fff" stroke="#10f810" stroke-width="1.3"/>
<rect x="181.84" y="879.85" width="5.7" height="5.7" fill="#fff" stroke="#10f810" stroke-width="1.3"/>
<rect x="190.73" y="917.05" width="5.7" height="5.7" fill="#fff" stroke="#10f810" stroke-width="1.3"/>
<rect x="199.62" y="851.95" width="5.7" height="5.7" fill="#fff" stroke="#10f810" stroke-width="1.3"/>
<rect x="208.51" y="870.55" width="5.7" height="5.7" fill="#fff" stroke="#10f810" stroke-width="1.3"/>
<rect x="217.39" y="842.65" width="5.7" height="5.7" fill="#fff" stroke="#10f810" stroke-width="1.3"/>
<rect x="226.28" y="824.05" width="5.7" height="5.7" fill="#fff" stroke="#10f810" stroke-width="1.3"/>
<rect x="235.17" y="842.65" width="5.7" height="5.7" fill="#fff" stroke="#10f810" stroke-width="1.3"/>
<rect x="244.05" y="879.85" width="5.7" height="5.7" fill="#fff" stroke="#10f810" stroke-width="1.3"/>
<rect x="252.94" y="889.15" width="5.7" height="5.7" fill="#fff" stroke="#10f810" stroke-width="1.3"/>
<rect x="261.83" y="898.45" width="5.7" height="5.7" fill="#fff" stroke="#10f810" stroke-width="1.3"/>
<rect x="270.71" y="879.85" width="5.7" height="5.7" fill="#fff" stroke="#10f810" stroke-width="1.3"/>
<rect x="279.6" y="898.45" width="5.7" height="5.7" fill="#fff" stroke="#10f810" stroke-width="1.3"/>
<rect x="288.49" y="907.75" width="5.7" height="5.7" fill="#fff" stroke="#10f810" stroke-width="1.3"/>
<rect x="297.38" y="879.85" width="5.7" height="5.7" fill="#fff" stroke="#10f810" stroke-width="1.3"/>
<rect x="306.26" y="889.15" width="5.7" height="5.7" fill="#fff" stroke="#10f810" stroke-width="1.3"/>
<rect x="315.15" y="898.45" width="5.7" height="5.7" fill="#fff" stroke="#10f810" stroke-width="1.3"/>
<rect x="324.04" y="870.55" width="5.7" height="5.7" fill="#fff" stroke="#10f810" stroke-width="1.3"/>
<rect x="332.92" y="851.95" width="5.7" height="5.7" fill="#fff" stroke="#10f810" stroke-width="1.3"/>
<rect x="341.81" y="861.25" width="5.7" height="5.7" fill="#fff" stroke="#10f810" stroke-width="1.3"/>
<rect x="350.7" y="861.25" width="5.7" height="5.7" fill="#fff" stroke="#10f810" stroke-width="1.3"/>
<rect x="359.58" y="842.65" width="5.7" height="5.7" fill="#fff" stroke="#10f810" stroke-width="1.3"/>
<rect x="368.47" y="851.95" width="5.7" height="5.7" fill="#fff" stroke="#10f810" stroke-width="1.3"/>
<rect x="377.36" y="851.95" width="5.7" height="5.7" fill="#fff" stroke="#10f810" stroke-width="1.3"/>
<rect x="386.25" y="851.95" width="5.7" height="5.7" fill="#fff" stroke="#10f810" stroke-width="1.3"/>
<rect x="395.13" y="861.25" width="5.7" height="5.7" fill="#fff" stroke="#10f810" stroke-width="1.3"/>
<rect x="404.02" y="889.15" width="5.7" height="5.7" fill="#fff" stroke="#10f810" stroke-width="1.3"/>
<rect x="412.91" y="870.55" width="5.7" height="5.7" fill="#fff" stroke="#10f810" stroke-width="1.3"/>
<rect x="421.79" y="861.25" width="5.7" height="5.7" fill="#fff" stroke="#10f810" stroke-width="1.3"/>
<rect x="430.68" y="861.25" width="5.7" height="5.7" fill="#fff" stroke="#10f810" stroke-width="1.3"/>
<rect x="439.57" y="861.25" width="5.7" height="5.7" fill="#fff" stroke="#10f810" stroke-width="1.3"/>
<rect x="448.45" y="898.45" width="5.7" height="5.7" fill="#fff" stroke="#10f810" stroke-width="1.3"/>
<rect x="457.34" y="824.05" width="5.7" height="5.7" fill="#fff" stroke="#10f810" stroke-width="1.3"/>
<rect x="466.23" y="842.65" width="5.7" height="5.7" fill="#fff" stroke="#10f810" stroke-width="1.3"/>
<rect x="475.12" y="851.95" width="5.7" height="5.7" fill="#fff" stroke="#10f810" stroke-width="1.3"/>
<rect x="484" y="833.35" width="5.7" height="5.7" fill="#fff" stroke="#10f810" stroke-width="1.3"/>
<rect x="492.89" y="833.35" width="5.7" height="5.7" fill="#fff" stroke="#10f810" stroke-width="1.3"/>
<rect x="501.78" y="842.65" width="5.7" height="5.7" fill="#fff" stroke="#10f810" stroke-width="1.3"/>
<rect x="510.66" y="907.75" width="5.7" height="5.7" fill="#fff" stroke="#10f810" stroke-width="1.3"/>
<rect x="519.55" y="879.85" width="5.7" height="5.7" fill="#fff" stroke="#10f810" stroke-width="1.3"/>
<rect x="528.44" y="879.85" width="5.7" height="5.7" fill="#fff" stroke="#10f810" stroke-width="1.3"/>
<rect x="537.32" y="842.65" width="5.7" height="5.7" fill="#fff" stroke="#10f810" stroke-width="1.3"/>
<rect x="546.21" y="851.95" width="5.7" height="5.7" fill="#fff" stroke="#10f810" stroke-width="1.3"/>
<rect x="555.1" y="889.15" width="5.7" height="5.7" fill="#fff" stroke="#10f810" stroke-width="1.3"/>
<rect x="563.99" y="870.55" width="5.7" height="5.7" fill="#fff" stroke="#10f810" stroke-width="1.3"/>
<rect x="572.87" y="879.85" width="5.7" height="5.7" fill="#fff" stroke="#10f810" stroke-width="1.3"/>
<rect x="581.76" y="870.55" width="5.7" height="5.7" fill="#fff" stroke="#10f810" stroke-width="1.3"/>
<rect x="590.65" y="870.55" width="5.7" height="5.7" fill="#fff" stroke="#10f810" stroke-width="1.3"/>
<rect x="599.53" y="870.55" width="5.7" height="5.7" fill="#fff" stroke="#10f810" stroke-width="1.3"/>
<rect x="608.42" y="861.25" width="5.7" height="5.7" fill="#fff" stroke="#10f810" stroke-width="1.3"/>
<rect x="617.31" y="870.55" width="5.7" height="5.7" fill="#fff" stroke="#10f810" stroke-width="1.3"/>
<rect x="626.19" y="824.05" width="5.7" height="5.7" fill="#fff" stroke="#10f810" stroke-width="1.3"/>
<rect x="635.08" y="833.35" width="5.7" height="5.7" fill="#fff" stroke="#10f810" stroke-width="1.3"/>
<rect x="643.97" y="833.35" width="5.7" height="5.7" fill="#fff" stroke="#10f810" stroke-width="1.3"/>
<rect x="652.85" y="851.95" width="5.7" height="5.7" fill="#fff" stroke="#10f810" stroke-width="1.3"/>
<rect x="661.74" y="861.25" width="5.7" height="5.7" fill="#fff" stroke="#10f810" stroke-width="1.3"/>
<rect x="670.63" y="861.25" width="5.7" height="5.7" fill="#fff" stroke="#10f810" stroke-width="1.3"/>
<rect x="679.52" y="861.25" width="5.7" height="5.7" fill="#fff" stroke="#10f810" stroke-width="1.3"/>
<rect x="688.4" y="851.95" width="5.7" height="5.7" fill="#fff" stroke="#10f810" stroke-width="1.3"/>
<rect x="697.29" y="851.95" width="5.7" height="5.7" fill="#fff" stroke="#10f810" stroke-width="1.3"/>
<rect x="706.18" y="861.25" width="5.7" height="5.7" fill="#fff" stroke="#10f810" stroke-width="1.3"/>
<rect x="715.06" y="842.65" width="5.7" height="5.7" fill="#fff" stroke="#10f810" stroke-width="1.3"/>
<rect x="723.95" y="833.35" width="5.7" height="5.7" fill="#fff" stroke="#10f810" stroke-width="1.3"/>
<rect x="732.84" y="842.65" width="5.7" height="5.7" fill="#fff" stroke="#10f810" stroke-width="1.3"/>
<rect x="741.73" y="796.15" width="5.7" height="5.7" fill="#fff" stroke="#10f810" stroke-width="1.3"/>
<rect x="750.61" y="898.45" width="5.7" height="5.7" fill="#fff" stroke="#10f810" stroke-width="1.3"/>
<rect x="759.5" y="907.75" width="5.7" height="5.7" fill="#fff" stroke="#10f810" stroke-width="1.3"/>
<rect x="768.39" y="851.95" width="5.7" height="5.7" fill="#fff" stroke="#10f810" stroke-width="1.3"/>
<rect x="777.27" y="851.95" width="5.7" height="5.7" fill="#fff" stroke="#10f810" stroke-width="1.3"/>
<rect x="786.16" y="879.85" width="5.7" height="5.7" fill="#fff" stroke="#10f810" stroke-width="1.3"/>
<rect x="795.05" y="889.15" width="5.7" height="5.7" fill="#fff" stroke="#10f810" stroke-width="1.3"/>
<rect x="803.93" y="870.55" width="5.7" height="5.7" fill="#fff" stroke="#10f810" stroke-width="1.3"/>
<rect x="812.82" y="861.25" width="5.7" height="5.7" fill="#fff" stroke="#10f810" stroke-width="1.3"/>
<rect x="821.71" y="824.05" width="5.7" height="5.7" fill="#fff" stroke="#10f810" stroke-width="1.3"/>
<rect x="830.59" y="833.35" width="5.7" height="5.7" fill="#fff" stroke="#10f810" stroke-width="1.3"/>
<rect x="839.48" y="889.15" width="5.7" height="5.7" fill="#fff" stroke="#10f810" stroke-width="1.3"/>
<rect x="848.37" y="870.55" width="5.7" height="5.7" fill="#fff" stroke="#10f810" stroke-width="1.3"/>
<rect x="857.26" y="889.15" width="5.7" height="5.7" fill="#fff" stroke="#10f810" stroke-width="1.3"/>
<rect x="866.14" y="870.55" width="5.7" height="5.7" fill="#fff" stroke="#10f810" stroke-width="1.3"/>
<rect x="875.03" y="833.35" width="5.7" height="5.7" fill="#fff" stroke="#10f810" stroke-width="1.3"/>
<rect x="883.92" y="889.15" width="5.7" height="5.7" fill="#fff" stroke="#10f810" stroke-width="1.3"/>
<rect x="892.8" y="898.45" width="5.7" height="5.7" fill="#fff" stroke="#10f810" stroke-width="1.3"/>
<rect x="901.69" y="889.15" width="5.7" height="5.7" fill="#fff" stroke="#10f810" stroke-width="1.3"/>
<rect x="910.58" y="851.95" width="5.7" height="5.7" fill="#fff" stroke="#10f810" stroke-width="1.3"/>
<rect x="919.47" y="851.95" width="5.7" height="5.7" fill="#fff" stroke="#10f810" stroke-width="1.3"/>
<rect x="928.35" y="889.15" width="5.7" height="5.7" fill="#fff" stroke="#10f810" stroke-width="1.3"/>
<rect x="937.24" y="842.65" width="5.7" height="5.7" fill="#fff" stroke="#10f810" stroke-width="1.3"/>
<rect x="946.13" y="833.35" width="5.7" height="5.7" fill="#fff" stroke="#10f810" stroke-width="1.3"/>
<rect x="955.01" y="870.55" width="5.7" height="5.7" fill="#fff" stroke="#10f810" stroke-width="1.3"/>
<rect x="963.9" y="851.95" width="5.7" height="5.7" fill="#fff" stroke="#10f810" stroke-width="1.3"/>
<polyline points="78.05,826.9 86.94,826.9 95.82,826.9 104.71,826.9 113.6,826.9 122.48,826.9 131.37,826.9 140.26,826.9 149.15,826.9 158.03,826.9 166.92,826.9 175.81,826.9 184.69,892 193.58,826.9 202.47,826.9 211.36,826.9 220.24,826.9 229.13,892 238.02,808.3 246.9,826.9 255.79,892 264.68,826.9 273.56,826.9 282.45,892 291.34,892 300.23,826.9 309.11,892 318,808.3 326.89,808.3 335.77,826.9 344.66,808.3 353.55,892 362.43,826.9 371.32,826.9 380.21,826.9 389.1,892 397.98,826.9 406.87,826.9 415.76,808.3 424.64,808.3 433.53,808.3 442.42,808.3 451.3,826.9 460.19,826.9 469.08,892 477.97,826.9 486.85,826.9 495.74,892 504.63,826.9 513.51,826.9 522.4,826.9 531.29,892 540.17,826.9 549.06,845.5 557.95,892 566.84,826.9 575.72,826.9 584.61,826.9 593.5,826.9 602.38,826.9 611.27,826.9 620.16,826.9 629.04,826.9 637.93,826.9 646.82,808.3 655.7,808.3 664.59,826.9 673.48,826.9 682.37,826.9 691.25,826.9 700.14,826.9 709.03,826.9 717.91,826.9 726.8,826.9 735.69,808.3 744.58,892 753.46,826.9 762.35,854.8 771.24,854.8 780.12,854.8 789.01,826.9 797.9,892 806.78,826.9 815.67,808.3 824.56,845.5 833.44,826.9 842.33,826.9 851.22,845.5 860.11,892 868.99,854.8 877.88,845.5 886.77,845.5 895.65,808.3 904.54,892 913.43,808.3 922.32,892 931.2,892 940.09,826.9 948.98,854.8 957.86,845.5 966.75,808.3" fill="none" stroke="#ff0c0c" stroke-width="1.1" stroke-linejoin="round"/>
<circle cx="78.05" cy="826.9" r="3.65" fill="#fff" stroke="#ff0c0c" stroke-width="1.55"/><circle cx="78.05" cy="826.9" r="0.95" fill="#ff0c0c"/>
<circle cx="86.94" cy="826.9" r="3.65" fill="#fff" stroke="#ff0c0c" stroke-width="1.55"/><circle cx="86.94" cy="826.9" r="0.95" fill="#ff0c0c"/>
<circle cx="95.82" cy="826.9" r="3.65" fill="#fff" stroke="#ff0c0c" stroke-width="1.55"/><circle cx="95.82" cy="826.9" r="0.95" fill="#ff0c0c"/>
<circle cx="104.71" cy="826.9" r="3.65" fill="#fff" stroke="#ff0c0c" stroke-width="1.55"/><circle cx="104.71" cy="826.9" r="0.95" fill="#ff0c0c"/>
<circle cx="113.6" cy="826.9" r="3.65" fill="#fff" stroke="#ff0c0c" stroke-width="1.55"/><circle cx="113.6" cy="826.9" r="0.95" fill="#ff0c0c"/>
<circle cx="122.48" cy="826.9" r="3.65" fill="#fff" stroke="#ff0c0c" stroke-width="1.55"/><circle cx="122.48" cy="826.9" r="0.95" fill="#ff0c0c"/>
<circle cx="131.37" cy="826.9" r="3.65" fill="#fff" stroke="#ff0c0c" stroke-width="1.55"/><circle cx="131.37" cy="826.9" r="0.95" fill="#ff0c0c"/>
<circle cx="140.26" cy="826.9" r="3.65" fill="#fff" stroke="#ff0c0c" stroke-width="1.55"/><circle cx="140.26" cy="826.9" r="0.95" fill="#ff0c0c"/>
<circle cx="149.15" cy="826.9" r="3.65" fill="#fff" stroke="#ff0c0c" stroke-width="1.55"/><circle cx="149.15" cy="826.9" r="0.95" fill="#ff0c0c"/>
<circle cx="158.03" cy="826.9" r="3.65" fill="#fff" stroke="#ff0c0c" stroke-width="1.55"/><circle cx="158.03" cy="826.9" r="0.95" fill="#ff0c0c"/>
<circle cx="166.92" cy="826.9" r="3.65" fill="#fff" stroke="#ff0c0c" stroke-width="1.55"/><circle cx="166.92" cy="826.9" r="0.95" fill="#ff0c0c"/>
<circle cx="175.81" cy="826.9" r="3.65" fill="#fff" stroke="#ff0c0c" stroke-width="1.55"/><circle cx="175.81" cy="826.9" r="0.95" fill="#ff0c0c"/>
<rect x="181.79" y="889.1" width="5.8" height="5.8" fill="#ff0c0c"/>
<circle cx="193.58" cy="826.9" r="3.65" fill="#fff" stroke="#ff0c0c" stroke-width="1.55"/><circle cx="193.58" cy="826.9" r="0.95" fill="#ff0c0c"/>
<circle cx="202.47" cy="826.9" r="3.65" fill="#fff" stroke="#ff0c0c" stroke-width="1.55"/><circle cx="202.47" cy="826.9" r="0.95" fill="#ff0c0c"/>
<circle cx="211.36" cy="826.9" r="3.65" fill="#fff" stroke="#ff0c0c" stroke-width="1.55"/><circle cx="211.36" cy="826.9" r="0.95" fill="#ff0c0c"/>
<circle cx="220.24" cy="826.9" r="3.65" fill="#fff" stroke="#ff0c0c" stroke-width="1.55"/><circle cx="220.24" cy="826.9" r="0.95" fill="#ff0c0c"/>
<rect x="226.23" y="889.1" width="5.8" height="5.8" fill="#ff0c0c"/>
<circle cx="238.02" cy="808.3" r="3.65" fill="#fff" stroke="#0c0cff" stroke-width="1.55"/><circle cx="238.02" cy="808.3" r="0.95" fill="#0c0cff"/>
<circle cx="246.9" cy="826.9" r="3.65" fill="#fff" stroke="#ff0c0c" stroke-width="1.55"/><circle cx="246.9" cy="826.9" r="0.95" fill="#ff0c0c"/>
<rect x="252.89" y="889.1" width="5.8" height="5.8" fill="#ff0c0c"/>
<circle cx="264.68" cy="826.9" r="3.65" fill="#fff" stroke="#ff0c0c" stroke-width="1.55"/><circle cx="264.68" cy="826.9" r="0.95" fill="#ff0c0c"/>
<circle cx="273.56" cy="826.9" r="3.65" fill="#fff" stroke="#ff0c0c" stroke-width="1.55"/><circle cx="273.56" cy="826.9" r="0.95" fill="#ff0c0c"/>
<rect x="279.55" y="889.1" width="5.8" height="5.8" fill="#ff0c0c"/>
<rect x="288.44" y="889.1" width="5.8" height="5.8" fill="#ff0c0c"/>
<circle cx="300.23" cy="826.9" r="3.65" fill="#fff" stroke="#ff0c0c" stroke-width="1.55"/><circle cx="300.23" cy="826.9" r="0.95" fill="#ff0c0c"/>
<rect x="306.21" y="889.1" width="5.8" height="5.8" fill="#ff0c0c"/>
<circle cx="318" cy="808.3" r="3.65" fill="#fff" stroke="#0c0cff" stroke-width="1.55"/><circle cx="318" cy="808.3" r="0.95" fill="#0c0cff"/>
<circle cx="326.89" cy="808.3" r="3.65" fill="#fff" stroke="#0c0cff" stroke-width="1.55"/><circle cx="326.89" cy="808.3" r="0.95" fill="#0c0cff"/>
<circle cx="335.77" cy="826.9" r="3.65" fill="#fff" stroke="#ff0c0c" stroke-width="1.55"/><circle cx="335.77" cy="826.9" r="0.95" fill="#ff0c0c"/>
<circle cx="344.66" cy="808.3" r="3.65" fill="#fff" stroke="#0c0cff" stroke-width="1.55"/><circle cx="344.66" cy="808.3" r="0.95" fill="#0c0cff"/>
<rect x="350.65" y="889.1" width="5.8" height="5.8" fill="#ff0c0c"/>
<circle cx="362.43" cy="826.9" r="3.65" fill="#fff" stroke="#ff0c0c" stroke-width="1.55"/><circle cx="362.43" cy="826.9" r="0.95" fill="#ff0c0c"/>
<circle cx="371.32" cy="826.9" r="3.65" fill="#fff" stroke="#ff0c0c" stroke-width="1.55"/><circle cx="371.32" cy="826.9" r="0.95" fill="#ff0c0c"/>
<circle cx="380.21" cy="826.9" r="3.65" fill="#fff" stroke="#ff0c0c" stroke-width="1.55"/><circle cx="380.21" cy="826.9" r="0.95" fill="#ff0c0c"/>
<rect x="386.2" y="889.1" width="5.8" height="5.8" fill="#ff0c0c"/>
<circle cx="397.98" cy="826.9" r="3.65" fill="#fff" stroke="#ff0c0c" stroke-width="1.55"/><circle cx="397.98" cy="826.9" r="0.95" fill="#ff0c0c"/>
<circle cx="406.87" cy="826.9" r="3.65" fill="#fff" stroke="#ff0c0c" stroke-width="1.55"/><circle cx="406.87" cy="826.9" r="0.95" fill="#ff0c0c"/>
<circle cx="415.76" cy="808.3" r="3.65" fill="#fff" stroke="#0c0cff" stroke-width="1.55"/><circle cx="415.76" cy="808.3" r="0.95" fill="#0c0cff"/>
<circle cx="424.64" cy="808.3" r="3.65" fill="#fff" stroke="#0c0cff" stroke-width="1.55"/><circle cx="424.64" cy="808.3" r="0.95" fill="#0c0cff"/>
<circle cx="433.53" cy="808.3" r="3.65" fill="#fff" stroke="#0c0cff" stroke-width="1.55"/><circle cx="433.53" cy="808.3" r="0.95" fill="#0c0cff"/>
<circle cx="442.42" cy="808.3" r="3.65" fill="#fff" stroke="#0c0cff" stroke-width="1.55"/><circle cx="442.42" cy="808.3" r="0.95" fill="#0c0cff"/>
<circle cx="451.3" cy="826.9" r="3.65" fill="#fff" stroke="#ff0c0c" stroke-width="1.55"/><circle cx="451.3" cy="826.9" r="0.95" fill="#ff0c0c"/>
<circle cx="460.19" cy="826.9" r="3.65" fill="#fff" stroke="#ff0c0c" stroke-width="1.55"/><circle cx="460.19" cy="826.9" r="0.95" fill="#ff0c0c"/>
<rect x="466.18" y="889.1" width="5.8" height="5.8" fill="#ff0c0c"/>
<circle cx="477.97" cy="826.9" r="3.65" fill="#fff" stroke="#ff0c0c" stroke-width="1.55"/><circle cx="477.97" cy="826.9" r="0.95" fill="#ff0c0c"/>
<circle cx="486.85" cy="826.9" r="3.65" fill="#fff" stroke="#ff0c0c" stroke-width="1.55"/><circle cx="486.85" cy="826.9" r="0.95" fill="#ff0c0c"/>
<rect x="492.84" y="889.1" width="5.8" height="5.8" fill="#ff0c0c"/>
<circle cx="504.63" cy="826.9" r="3.65" fill="#fff" stroke="#ff0c0c" stroke-width="1.55"/><circle cx="504.63" cy="826.9" r="0.95" fill="#ff0c0c"/>
<circle cx="513.51" cy="826.9" r="3.65" fill="#fff" stroke="#ff0c0c" stroke-width="1.55"/><circle cx="513.51" cy="826.9" r="0.95" fill="#ff0c0c"/>
<circle cx="522.4" cy="826.9" r="3.65" fill="#fff" stroke="#ff0c0c" stroke-width="1.55"/><circle cx="522.4" cy="826.9" r="0.95" fill="#ff0c0c"/>
<rect x="528.39" y="889.1" width="5.8" height="5.8" fill="#ff0c0c"/>
<circle cx="540.17" cy="826.9" r="3.65" fill="#fff" stroke="#ff0c0c" stroke-width="1.55"/><circle cx="540.17" cy="826.9" r="0.95" fill="#ff0c0c"/>
<path d="M545.06 842.85L553.06 842.85L549.06 850Z" fill="#fff" stroke="#0c0cff" stroke-width="1.6" stroke-linejoin="miter"/><circle cx="549.06" cy="845.5" r="0.8" fill="#0c0cff"/>
<rect x="555.05" y="889.1" width="5.8" height="5.8" fill="#ff0c0c"/>
<circle cx="566.84" cy="826.9" r="3.65" fill="#fff" stroke="#ff0c0c" stroke-width="1.55"/><circle cx="566.84" cy="826.9" r="0.95" fill="#ff0c0c"/>
<circle cx="575.72" cy="826.9" r="3.65" fill="#fff" stroke="#ff0c0c" stroke-width="1.55"/><circle cx="575.72" cy="826.9" r="0.95" fill="#ff0c0c"/>
<circle cx="584.61" cy="826.9" r="3.65" fill="#fff" stroke="#ff0c0c" stroke-width="1.55"/><circle cx="584.61" cy="826.9" r="0.95" fill="#ff0c0c"/>
<circle cx="593.5" cy="826.9" r="3.65" fill="#fff" stroke="#ff0c0c" stroke-width="1.55"/><circle cx="593.5" cy="826.9" r="0.95" fill="#ff0c0c"/>
<circle cx="602.38" cy="826.9" r="3.65" fill="#fff" stroke="#ff0c0c" stroke-width="1.55"/><circle cx="602.38" cy="826.9" r="0.95" fill="#ff0c0c"/>
<circle cx="611.27" cy="826.9" r="3.65" fill="#fff" stroke="#ff0c0c" stroke-width="1.55"/><circle cx="611.27" cy="826.9" r="0.95" fill="#ff0c0c"/>
<circle cx="620.16" cy="826.9" r="3.65" fill="#fff" stroke="#ff0c0c" stroke-width="1.55"/><circle cx="620.16" cy="826.9" r="0.95" fill="#ff0c0c"/>
<circle cx="629.04" cy="826.9" r="3.65" fill="#fff" stroke="#ff0c0c" stroke-width="1.55"/><circle cx="629.04" cy="826.9" r="0.95" fill="#ff0c0c"/>
<circle cx="637.93" cy="826.9" r="3.65" fill="#fff" stroke="#ff0c0c" stroke-width="1.55"/><circle cx="637.93" cy="826.9" r="0.95" fill="#ff0c0c"/>
<circle cx="646.82" cy="808.3" r="3.65" fill="#fff" stroke="#0c0cff" stroke-width="1.55"/><circle cx="646.82" cy="808.3" r="0.95" fill="#0c0cff"/>
<circle cx="655.7" cy="808.3" r="3.65" fill="#fff" stroke="#0c0cff" stroke-width="1.55"/><circle cx="655.7" cy="808.3" r="0.95" fill="#0c0cff"/>
<circle cx="664.59" cy="826.9" r="3.65" fill="#fff" stroke="#ff0c0c" stroke-width="1.55"/><circle cx="664.59" cy="826.9" r="0.95" fill="#ff0c0c"/>
<circle cx="673.48" cy="826.9" r="3.65" fill="#fff" stroke="#ff0c0c" stroke-width="1.55"/><circle cx="673.48" cy="826.9" r="0.95" fill="#ff0c0c"/>
<circle cx="682.37" cy="826.9" r="3.65" fill="#fff" stroke="#ff0c0c" stroke-width="1.55"/><circle cx="682.37" cy="826.9" r="0.95" fill="#ff0c0c"/>
<circle cx="691.25" cy="826.9" r="3.65" fill="#fff" stroke="#ff0c0c" stroke-width="1.55"/><circle cx="691.25" cy="826.9" r="0.95" fill="#ff0c0c"/>
<circle cx="700.14" cy="826.9" r="3.65" fill="#fff" stroke="#ff0c0c" stroke-width="1.55"/><circle cx="700.14" cy="826.9" r="0.95" fill="#ff0c0c"/>
<circle cx="709.03" cy="826.9" r="3.65" fill="#fff" stroke="#ff0c0c" stroke-width="1.55"/><circle cx="709.03" cy="826.9" r="0.95" fill="#ff0c0c"/>
<circle cx="717.91" cy="826.9" r="3.65" fill="#fff" stroke="#ff0c0c" stroke-width="1.55"/><circle cx="717.91" cy="826.9" r="0.95" fill="#ff0c0c"/>
<circle cx="726.8" cy="826.9" r="3.65" fill="#fff" stroke="#ff0c0c" stroke-width="1.55"/><circle cx="726.8" cy="826.9" r="0.95" fill="#ff0c0c"/>
<circle cx="735.69" cy="808.3" r="3.65" fill="#fff" stroke="#0c0cff" stroke-width="1.55"/><circle cx="735.69" cy="808.3" r="0.95" fill="#0c0cff"/>
<rect x="741.68" y="889.1" width="5.8" height="5.8" fill="#ff0c0c"/>
<circle cx="753.46" cy="826.9" r="3.65" fill="#fff" stroke="#ff0c0c" stroke-width="1.55"/><circle cx="753.46" cy="826.9" r="0.95" fill="#ff0c0c"/>
<path d="M762.35 850.7L763.35 853.52L766.34 853.6L763.97 855.43L764.82 858.3L762.35 856.6L759.88 858.3L760.73 855.43L758.35 853.6L761.35 853.52Z" fill="#fff" stroke="#1a1a1a" stroke-width="1.45" stroke-linejoin="round"/>
<path d="M771.24 850.7L772.24 853.52L775.23 853.6L772.85 855.43L773.7 858.3L771.24 856.6L768.77 858.3L769.62 855.43L767.24 853.6L770.24 853.52Z" fill="#fff" stroke="#1a1a1a" stroke-width="1.45" stroke-linejoin="round"/>
<path d="M780.12 850.7L781.12 853.52L784.12 853.6L781.74 855.43L782.59 858.3L780.12 856.6L777.65 858.3L778.51 855.43L776.13 853.6L779.12 853.52Z" fill="#fff" stroke="#1a1a1a" stroke-width="1.45" stroke-linejoin="round"/>
<circle cx="789.01" cy="826.9" r="3.65" fill="#fff" stroke="#ff0c0c" stroke-width="1.55"/><circle cx="789.01" cy="826.9" r="0.95" fill="#ff0c0c"/>
<rect x="795" y="889.1" width="5.8" height="5.8" fill="#ff0c0c"/>
<circle cx="806.78" cy="826.9" r="3.65" fill="#fff" stroke="#ff0c0c" stroke-width="1.55"/><circle cx="806.78" cy="826.9" r="0.95" fill="#ff0c0c"/>
<circle cx="815.67" cy="808.3" r="3.65" fill="#fff" stroke="#0c0cff" stroke-width="1.55"/><circle cx="815.67" cy="808.3" r="0.95" fill="#0c0cff"/>
<path d="M820.56 842.85L828.56 842.85L824.56 850Z" fill="#fff" stroke="#0c0cff" stroke-width="1.6" stroke-linejoin="miter"/><circle cx="824.56" cy="845.5" r="0.8" fill="#0c0cff"/>
<circle cx="833.44" cy="826.9" r="3.65" fill="#fff" stroke="#ff0c0c" stroke-width="1.55"/><circle cx="833.44" cy="826.9" r="0.95" fill="#ff0c0c"/>
<circle cx="842.33" cy="826.9" r="3.65" fill="#fff" stroke="#ff0c0c" stroke-width="1.55"/><circle cx="842.33" cy="826.9" r="0.95" fill="#ff0c0c"/>
<path d="M847.22 842.85L855.22 842.85L851.22 850Z" fill="#fff" stroke="#0c0cff" stroke-width="1.6" stroke-linejoin="miter"/><circle cx="851.22" cy="845.5" r="0.8" fill="#0c0cff"/>
<rect x="857.21" y="889.1" width="5.8" height="5.8" fill="#ff0c0c"/>
<path d="M868.99 850.7L869.99 853.52L872.99 853.6L870.61 855.43L871.46 858.3L868.99 856.6L866.52 858.3L867.38 855.43L865 853.6L867.99 853.52Z" fill="#fff" stroke="#1a1a1a" stroke-width="1.45" stroke-linejoin="round"/>
<path d="M873.88 842.85L881.88 842.85L877.88 850Z" fill="#fff" stroke="#0c0cff" stroke-width="1.6" stroke-linejoin="miter"/><circle cx="877.88" cy="845.5" r="0.8" fill="#0c0cff"/>
<path d="M882.77 842.85L890.77 842.85L886.77 850Z" fill="#fff" stroke="#0c0cff" stroke-width="1.6" stroke-linejoin="miter"/><circle cx="886.77" cy="845.5" r="0.8" fill="#0c0cff"/>
<circle cx="895.65" cy="808.3" r="3.65" fill="#fff" stroke="#0c0cff" stroke-width="1.55"/><circle cx="895.65" cy="808.3" r="0.95" fill="#0c0cff"/>
<rect x="901.64" y="889.1" width="5.8" height="5.8" fill="#ff0c0c"/>
<circle cx="913.43" cy="808.3" r="3.65" fill="#fff" stroke="#0c0cff" stroke-width="1.55"/><circle cx="913.43" cy="808.3" r="0.95" fill="#0c0cff"/>
<rect x="919.42" y="889.1" width="5.8" height="5.8" fill="#ff0c0c"/>
<rect x="928.3" y="889.1" width="5.8" height="5.8" fill="#ff0c0c"/>
<circle cx="940.09" cy="826.9" r="3.65" fill="#fff" stroke="#ff0c0c" stroke-width="1.55"/><circle cx="940.09" cy="826.9" r="0.95" fill="#ff0c0c"/>
<path d="M948.98 850.7L949.98 853.52L952.97 853.6L950.59 855.43L951.44 858.3L948.98 856.6L946.51 858.3L947.36 855.43L944.98 853.6L947.98 853.52Z" fill="#fff" stroke="#1a1a1a" stroke-width="1.45" stroke-linejoin="round"/>
<path d="M953.86 842.85L961.86 842.85L957.86 850Z" fill="#fff" stroke="#0c0cff" stroke-width="1.6" stroke-linejoin="miter"/><circle cx="957.86" cy="845.5" r="0.8" fill="#0c0cff"/>
<circle cx="966.75" cy="808.3" r="3.65" fill="#fff" stroke="#0c0cff" stroke-width="1.55"/><circle cx="966.75" cy="808.3" r="0.95" fill="#0c0cff"/>
<path d="M71.9 772.8L975.9 771.6" stroke="#0c0cff" stroke-width="1.3" stroke-dasharray="5 3.676" fill="none"/>
<path d="M60.8 515.5H984.3V956.9H60.8Z" fill="none" stroke="#060606" stroke-width="1.6"/>
<path d="M60.8 956.9h-7.4M60.8 910.6h-7.4M60.8 864.1h-7.4M60.8 817.6h-7.4M60.8 771.1h-7.4M60.8 724.6h-7.4M60.8 678.1h-7.4M60.8 631.6h-7.4M60.8 585.1h-7.4M60.8 538.6h-7.4M60.8 933.85h-4.4M60.8 887.35h-4.4M60.8 840.85h-4.4M60.8 794.35h-4.4M60.8 747.85h-4.4M60.8 701.35h-4.4M60.8 654.85h-4.4M60.8 608.35h-4.4M60.8 561.85h-4.4M60.8 515.5h-4.4M69.5 956.9v7.8M140.58 956.9v7.8M211.66 956.9v7.8M282.74 956.9v7.8M353.82 956.9v7.8M424.9 956.9v7.8M495.98 956.9v7.8M567.06 956.9v7.8M638.14 956.9v7.8M709.22 956.9v7.8M780.3 956.9v7.8M851.38 956.9v7.8M922.46 956.9v7.8M105.04 956.9v4.5M176.12 956.9v4.5M247.2 956.9v4.5M318.28 956.9v4.5M389.36 956.9v4.5M460.44 956.9v4.5M531.52 956.9v4.5M602.6 956.9v4.5M673.68 956.9v4.5M744.76 956.9v4.5M815.84 956.9v4.5M886.92 956.9v4.5M958 956.9v4.5" fill="none" stroke="#060606" stroke-width="1.6"/>
<text x="48.3" y="963.1" font-size="20.8" text-anchor="end">0.55</text>
<text x="48.3" y="916.6" font-size="20.8" text-anchor="end">0.60</text>
<text x="48.3" y="870.1" font-size="20.8" text-anchor="end">0.65</text>
<text x="48.3" y="823.6" font-size="20.8" text-anchor="end">0.70</text>
<text x="48.3" y="777.1" font-size="20.8" text-anchor="end">0.75</text>
<text x="48.3" y="730.6" font-size="20.8" text-anchor="end">0.80</text>
<text x="48.3" y="684.1" font-size="20.8" text-anchor="end">0.85</text>
<text x="48.3" y="637.6" font-size="20.8" text-anchor="end">0.90</text>
<text x="48.3" y="591.1" font-size="20.8" text-anchor="end">0.95</text>
<text x="48.3" y="544.6" font-size="20.8" text-anchor="end">1.00</text>
<text transform="translate(144.48 993.7) rotate(-30)" font-size="23.9" text-anchor="end">0110_0620</text>
<text transform="translate(215.56 993.7) rotate(-30)" font-size="23.9" text-anchor="end">0114_0630</text>
<text transform="translate(286.64 993.7) rotate(-30)" font-size="23.9" text-anchor="end">0117_0530</text>
<text transform="translate(357.72 993.7) rotate(-30)" font-size="23.9" text-anchor="end">0121_0630</text>
<text transform="translate(428.8 993.7) rotate(-30)" font-size="23.9" text-anchor="end">0125_0330</text>
<text transform="translate(499.88 993.7) rotate(-30)" font-size="23.9" text-anchor="end">0204_0530</text>
<text transform="translate(570.96 993.7) rotate(-30)" font-size="23.9" text-anchor="end">0220_0330</text>
<text transform="translate(642.04 993.7) rotate(-30)" font-size="23.9" text-anchor="end">0227_0430</text>
<text transform="translate(713.12 993.7) rotate(-30)" font-size="23.9" text-anchor="end">0301_0530</text>
<text transform="translate(784.2 993.7) rotate(-30)" font-size="23.9" text-anchor="end">0312_0630</text>
<text transform="translate(855.28 993.7) rotate(-30)" font-size="23.9" text-anchor="end">0324_0520</text>
<text transform="translate(926.36 993.7) rotate(-30)" font-size="23.9" text-anchor="end">0407_0620</text>
<text x="981.2" y="760.7" font-size="26" text-anchor="end">ssa</text>
<text x="982.0" y="945.8" font-size="26" text-anchor="end">asy</text>
</g>
<g id="mid-legend">
<text x="90.9" y="505.8" font-size="22.2">AERONET</text>
<path d="M198.5 498.3H246.9" stroke="#10f810" stroke-width="1.05" stroke-dasharray="5 3.6" fill="none"/>
<rect x="220.6" y="495.8" width="5.0" height="5.0" fill="#fff" stroke="#10f810" stroke-width="1.2"/>
<text x="255.2" y="505.8" font-size="22.2">ITS</text>
<path d="M295 498.3H345.4" stroke="#ff0c0c" stroke-width="1.1" fill="none"/>
<circle cx="320.4" cy="498.3" r="3.85" fill="#fff" stroke="#0c0cff" stroke-width="1.5"/><circle cx="320.4" cy="498.3" r="0.85" fill="#0c0cff"/>
<text x="352.2" y="505.8" font-size="26">1</text>
<path d="M366.6 498.3H417" stroke="#ff0c0c" stroke-width="1.1" fill="none"/>
<path d="M391.8 494.2L392.8 497.02L395.79 497.1L393.42 498.93L394.27 501.8L391.8 500.1L389.33 501.8L390.18 498.93L387.81 497.1L390.8 497.02Z" fill="#fff" stroke="#1a1a1a" stroke-width="1.45" stroke-linejoin="round"/>
<text x="423.8" y="505.8" font-size="26">2</text>
<path d="M438.8 498.3H488.6" stroke="#ff0c0c" stroke-width="1.1" fill="none"/>
<circle cx="463.6" cy="498.3" r="3.85" fill="#fff" stroke="#ff0c0c" stroke-width="1.5"/><circle cx="463.6" cy="498.3" r="0.85" fill="#ff0c0c"/>
<text x="495.7" y="505.8" font-size="26">3</text>
<path d="M510.4 498.3H560.2" stroke="#ff0c0c" stroke-width="1.1" fill="none"/>
<path d="M531.6 496.05L539.6 496.05L535.6 503.2Z" fill="#fff" stroke="#0c0cff" stroke-width="1.6" stroke-linejoin="miter"/><circle cx="535.6" cy="498.7" r="0.8" fill="#0c0cff"/>
<text x="567.3" y="505.8" font-size="26">4</text>
<path d="M582 498.3H632.1" stroke="#ff0c0c" stroke-width="1.1" fill="none"/>
<rect x="604.1" y="495.3" width="6.2" height="6.2" fill="#ff0c0c"/>
<text x="639.2" y="505.8" font-size="26.4">5 Aerosol types</text>
</g>
</svg></body></html>
